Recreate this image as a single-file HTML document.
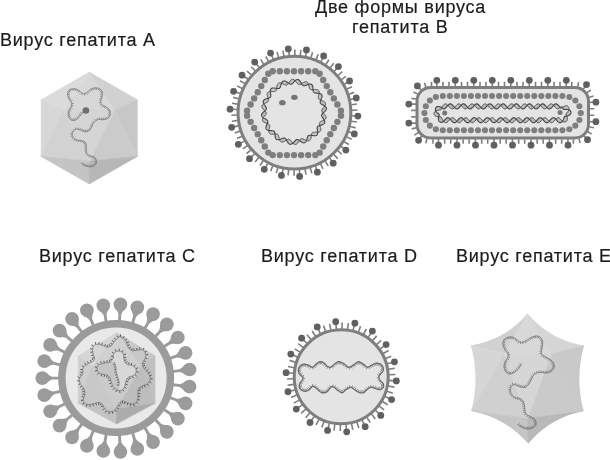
<!DOCTYPE html>
<html><head><meta charset="utf-8"><style>
html,body{margin:0;padding:0;background:#fff;width:610px;height:460px;overflow:hidden}
.t{position:absolute;font:18px/1 "Liberation Sans",sans-serif;letter-spacing:0.76px;color:#1c1c1c;white-space:nowrap;will-change:transform;-webkit-text-stroke:0.2px #1c1c1c}
svg{position:absolute;left:0;top:0}
</style></head><body>
<svg width="610" height="460" viewBox="0 0 610 460"><polygon points="89.2,72 63.5,110 114.5,110" fill="#d8d8d8" stroke="#d8d8d8" stroke-width="0.6" stroke-linejoin="round"/><polygon points="89.2,72 41.1,99.8 63.5,110" fill="#dbdbdb" stroke="#dbdbdb" stroke-width="0.6" stroke-linejoin="round"/><polygon points="89.2,72 137.4,99.8 114.5,110" fill="#d1d1d1" stroke="#d1d1d1" stroke-width="0.6" stroke-linejoin="round"/><polygon points="41.1,99.8 41.1,156.4 63.5,110" fill="#d7d7d7" stroke="#d7d7d7" stroke-width="0.6" stroke-linejoin="round"/><polygon points="137.4,99.8 137.4,156.4 114.5,110" fill="#c7c7c7" stroke="#c7c7c7" stroke-width="0.6" stroke-linejoin="round"/><polygon points="41.1,156.4 63.5,110 89.2,161" fill="#d2d2d2" stroke="#d2d2d2" stroke-width="0.6" stroke-linejoin="round"/><polygon points="137.4,156.4 114.5,110 89.2,161" fill="#cbcbcb" stroke="#cbcbcb" stroke-width="0.6" stroke-linejoin="round"/><polygon points="41.1,156.4 89.2,184 89.2,161" fill="#c4c4c4" stroke="#c4c4c4" stroke-width="0.6" stroke-linejoin="round"/><polygon points="89.2,184 137.4,156.4 89.2,161" fill="#b7b7b7" stroke="#b7b7b7" stroke-width="0.6" stroke-linejoin="round"/><polygon points="63.5,110 114.5,110 89.2,161" fill="#d5d5d5" stroke="#d5d5d5" stroke-width="0.6" stroke-linejoin="round"/><path d="M82.4 112.7 L82.03 113.19 L81.65 113.69 L81.28 114.2 L80.91 114.7 L80.53 115.2 L80.16 115.68 L79.78 116.15 L79.4 116.6 L79.02 117.04 L78.65 117.49 L78.28 117.92 L77.91 118.34 L77.53 118.74 L77.13 119.11 L76.73 119.43 L76.3 119.7 L75.84 119.93 L75.36 120.13 L74.86 120.3 L74.34 120.43 L73.83 120.52 L73.33 120.56 L72.85 120.56 L72.4 120.5 L71.97 120.38 L71.55 120.2 L71.13 119.97 L70.74 119.69 L70.36 119.38 L70.01 119.04 L69.69 118.68 L69.4 118.3 L69.14 117.9 L68.9 117.45 L68.69 116.98 L68.51 116.48 L68.35 115.97 L68.23 115.44 L68.15 114.92 L68.1 114.4 L68.1 113.88 L68.14 113.33 L68.22 112.78 L68.34 112.23 L68.48 111.67 L68.64 111.13 L68.82 110.6 L69 110.1 L69.22 109.62 L69.48 109.17 L69.77 108.73 L70.08 108.3 L70.38 107.88 L70.66 107.46 L70.91 107.03 L71.1 106.6 L71.26 106.16 L71.4 105.72 L71.52 105.28 L71.62 104.84 L71.68 104.41 L71.7 103.97 L71.68 103.53 L71.6 103.1 L71.45 102.68 L71.23 102.27 L70.95 101.86 L70.64 101.46 L70.31 101.04 L69.98 100.62 L69.67 100.17 L69.4 99.7 L69.15 99.19 L68.89 98.66 L68.63 98.1 L68.39 97.53 L68.16 96.96 L67.97 96.39 L67.81 95.83 L67.7 95.3 L67.63 94.78 L67.6 94.25 L67.6 93.73 L67.63 93.21 L67.7 92.72 L67.8 92.24 L67.93 91.8 L68.1 91.4 L68.31 91.03 L68.56 90.69 L68.84 90.37 L69.16 90.08 L69.5 89.82 L69.88 89.58 L70.28 89.38 L70.7 89.2 L71.16 89.05 L71.66 88.92 L72.2 88.83 L72.76 88.76 L73.33 88.72 L73.91 88.71 L74.47 88.74 L75 88.8 L75.52 88.91 L76.04 89.06 L76.57 89.24 L77.08 89.46 L77.59 89.7 L78.08 89.96 L78.55 90.23 L79 90.5 L79.43 90.8 L79.83 91.14 L80.22 91.5 L80.59 91.88 L80.95 92.24 L81.3 92.58 L81.65 92.87 L82 93.1 L82.34 93.28 L82.67 93.43 L82.98 93.54 L83.29 93.62 L83.61 93.67 L83.92 93.69 L84.25 93.66 L84.6 93.6 L84.96 93.49 L85.34 93.33 L85.73 93.13 L86.12 92.89 L86.52 92.63 L86.92 92.36 L87.31 92.08 L87.7 91.8 L88.07 91.5 L88.44 91.18 L88.79 90.83 L89.15 90.47 L89.51 90.11 L89.89 89.78 L90.28 89.47 L90.7 89.2 L91.14 88.96 L91.61 88.74 L92.1 88.54 L92.59 88.36 L93.1 88.21 L93.6 88.08 L94.11 87.97 L94.6 87.9 L95.09 87.86 L95.59 87.84 L96.1 87.85 L96.6 87.88 L97.1 87.94 L97.58 88.03 L98.05 88.15 L98.5 88.3 L98.94 88.48 L99.39 88.68 L99.82 88.92 L100.24 89.18 L100.64 89.47 L101.01 89.79 L101.33 90.13 L101.6 90.5 L101.82 90.9 L102 91.34 L102.14 91.82 L102.24 92.31 L102.32 92.83 L102.37 93.35 L102.39 93.88 L102.4 94.4 L102.38 94.93 L102.31 95.49 L102.22 96.05 L102.11 96.63 L101.98 97.19 L101.84 97.75 L101.72 98.29 L101.6 98.8 L101.48 99.29 L101.33 99.76 L101.17 100.22 L101.02 100.66 L100.88 101.09 L100.77 101.51 L100.71 101.91 L100.7 102.3 L100.74 102.67 L100.82 103.03 L100.93 103.38 L101.08 103.71 L101.25 104.03 L101.47 104.33 L101.72 104.62 L102 104.9 L102.33 105.15 L102.72 105.37 L103.15 105.56 L103.61 105.75 L104.09 105.94 L104.57 106.13 L105.05 106.35 L105.5 106.6 L105.95 106.88 L106.43 107.17 L106.91 107.47 L107.39 107.79 L107.85 108.12 L108.28 108.47 L108.67 108.83 L109 109.2 L109.28 109.59 L109.52 110.01 L109.73 110.45 L109.9 110.89 L110.04 111.35 L110.15 111.8 L110.24 112.26 L110.3 112.7 L110.34 113.14 L110.35 113.6 L110.34 114.05 L110.29 114.51 L110.22 114.95 L110.11 115.39 L109.98 115.81 L109.8 116.2 L109.59 116.58 L109.34 116.95 L109.05 117.32 L108.74 117.66 L108.39 117.99 L108.02 118.29 L107.62 118.56 L107.2 118.8 L106.74 119 L106.25 119.17 L105.72 119.31 L105.16 119.43 L104.59 119.53 L104.02 119.6 L103.45 119.66 L102.9 119.7 L102.35 119.71 L101.77 119.66 L101.2 119.59 L100.62 119.51 L100.05 119.43 L99.5 119.37 L98.98 119.35 L98.5 119.4 L98.05 119.5 L97.64 119.64 L97.25 119.82 L96.88 120.02 L96.52 120.24 L96.17 120.49 L95.84 120.74 L95.5 121 L95.17 121.27 L94.84 121.55 L94.53 121.84 L94.22 122.15 L93.92 122.48 L93.64 122.83 L93.36 123.2 L93.1 123.6 L92.86 124.04 L92.65 124.52 L92.46 125.02 L92.27 125.55 L92.09 126.08 L91.89 126.61 L91.66 127.12 L91.4 127.6 L91.11 128.07 L90.81 128.56 L90.48 129.04 L90.14 129.51 L89.79 129.96 L89.41 130.36 L89.01 130.71 L88.6 131 L88.16 131.22 L87.7 131.4 L87.21 131.53 L86.71 131.62 L86.19 131.67 L85.66 131.68 L85.13 131.65 L84.6 131.6 L84.06 131.49 L83.5 131.31 L82.92 131.08 L82.34 130.82 L81.77 130.56 L81.19 130.3 L80.64 130.08 L80.1 129.9 L79.58 129.75 L79.06 129.6 L78.55 129.47 L78.05 129.35 L77.56 129.26 L77.09 129.22 L76.64 129.23 L76.2 129.3 L75.78 129.44 L75.36 129.65 L74.96 129.9 L74.57 130.2 L74.21 130.53 L73.88 130.88 L73.57 131.24 L73.3 131.6 L73.06 131.97 L72.83 132.38 L72.63 132.8 L72.46 133.24 L72.33 133.68 L72.24 134.13 L72.19 134.57 L72.2 135 L72.27 135.43 L72.39 135.87 L72.56 136.32 L72.77 136.76 L73.01 137.18 L73.29 137.59 L73.59 137.96 L73.9 138.3 L74.24 138.6 L74.6 138.86 L75 139.1 L75.43 139.32 L75.87 139.51 L76.33 139.69 L76.81 139.85 L77.3 140 L77.82 140.12 L78.37 140.2 L78.96 140.26 L79.55 140.3 L80.14 140.34 L80.73 140.4 L81.28 140.48 L81.8 140.6 L82.29 140.74 L82.78 140.9 L83.26 141.06 L83.71 141.24 L84.14 141.45 L84.54 141.69 L84.89 141.97 L85.2 142.3 L85.46 142.68 L85.66 143.1 L85.83 143.57 L85.96 144.07 L86.07 144.59 L86.16 145.12 L86.23 145.66 L86.3 146.2 L86.34 146.75 L86.35 147.33 L86.33 147.93 L86.29 148.53 L86.26 149.13 L86.24 149.72 L86.25 150.28 L86.3 150.8 L86.38 151.29 L86.46 151.77 L86.57 152.24 L86.69 152.68 L86.84 153.1 L87.02 153.5 L87.24 153.86 L87.5 154.2 L87.82 154.49 L88.18 154.75 L88.59 154.97 L89.03 155.16 L89.49 155.34 L89.96 155.52 L90.44 155.7 L90.9 155.9 L91.38 156.09 L91.89 156.25 L92.42 156.4 L92.96 156.56 L93.48 156.73 L93.97 156.93 L94.41 157.19 L94.8 157.5 L95.14 157.89 L95.45 158.35 L95.72 158.85 L95.96 159.39 L96.16 159.94 L96.32 160.49 L96.44 161.01 L96.5 161.5 L96.51 161.97 L96.48 162.43 L96.39 162.89 L96.27 163.34 L96.1 163.78 L95.9 164.18 L95.67 164.56 L95.4 164.9 L95.09 165.21 L94.73 165.48 L94.32 165.74 L93.88 165.96 L93.42 166.16 L92.95 166.33 L92.47 166.48 L92 166.6 L91.53 166.69 L91.04 166.75 L90.54 166.77 L90.03 166.77 L89.52 166.76 L89.01 166.72 L88.5 166.66 L88 166.6 L87.5 166.52 L86.99 166.43 L86.48 166.32 L85.98 166.19 L85.48 166.05 L85 165.89 L84.53 165.7 L84.1 165.5 L83.7 165.27 L83.32 165.01 L82.97 164.73 L82.63 164.42 L82.3 164.12 L81.97 163.8 L81.64 163.5 L81.3 163.2" fill="none" stroke="#707070" stroke-width="0.9" stroke-linejoin="round" stroke-linecap="round"/><path d="M81.56 113.32L80.27 112.36M80.36 114.92L79.09 113.96M79.12 116.46L77.9 115.43M77.83 117.98L76.63 116.92M76.42 119.27L75.56 117.92M74.68 120.04L74.28 118.49M72.82 120.25L73.03 118.67M71.11 119.59L72.02 118.27M69.75 118.26L71.02 117.29M68.86 116.58L70.36 116.02M68.43 114.71L70.02 114.57M68.52 112.81L70.09 113.13M69.03 110.91L70.54 111.42M69.83 109.18L71.17 110.06M70.97 107.51L72.36 108.32M71.75 105.59L73.29 106.02M71.98 103.52L73.57 103.43M71.1 101.56L72.36 100.58M69.92 100L71.31 99.21M69.03 98.24L70.48 97.57M68.29 96.41L69.8 95.89M67.92 94.54L69.52 94.43M68.02 92.63L69.59 92.96M68.76 90.92L70.05 91.86M70.19 89.76L70.92 91.18M72 89.17L72.29 90.74M73.92 89.01L73.84 90.61M75.82 89.3L75.38 90.84M77.61 90.05L76.86 91.47M79.26 91.05L78.23 92.28M80.69 92.41L79.56 93.53M82.39 93.63L81.73 95.09M84.51 93.92L84.8 95.5M86.43 93.05L87.31 94.39M88.08 91.88L89.08 93.13M89.56 90.49L90.68 91.63M91.08 89.34L91.83 90.75M92.87 88.59L93.35 90.12M94.76 88.19L94.91 89.78M96.7 88.2L96.5 89.78M98.56 88.65L97.96 90.13M100.25 89.56L99.31 90.85M101.49 90.93L100.09 91.7M102 92.74L100.42 92.97M102.09 94.68L100.49 94.61M101.8 96.6L100.24 96.25M101.35 98.55L99.79 98.19M100.78 100.43L99.27 99.9M100.42 102.51L98.83 102.69M101.21 104.48L99.9 105.41M102.9 105.78L102.24 107.23M104.75 106.54L104.08 108M106.44 107.53L105.59 108.88M108.04 108.66L107.04 109.91M109.23 110.11L107.85 110.92M109.87 111.9L108.29 112.19M110.04 113.82L108.44 113.77M109.7 115.69L108.18 115.18M108.7 117.26L107.51 116.19M107.22 118.45L106.43 117.05M105.42 119.07L105.09 117.5M103.47 119.35L103.31 117.76M101.55 119.33L101.75 117.75M99.56 119.07L99.72 117.48M97.45 119.4L96.8 117.94M95.69 120.47L94.73 119.19M94.14 121.8L93 120.68M92.86 123.41L91.53 122.53M92.04 125.31L90.53 124.78M91.32 127.12L89.91 126.36M90.28 128.8L88.95 127.92M89.05 130.28L87.99 129.08M87.44 131.16L87.03 129.61M85.55 131.37L85.62 129.77M83.67 131.05L84.15 129.53M81.86 130.27L82.52 128.81M79.96 129.55L80.39 128.01M77.99 129.04L78.27 127.46M75.87 129.09L75.36 127.58M74.1 130.23L73.02 129.04M72.78 131.85L71.38 131.07M72 133.79L70.43 133.46M72.08 135.9L70.54 136.32M73.04 137.76L71.72 138.65M74.58 139.2L73.76 140.57M76.46 140.05L75.95 141.57M78.47 140.51L78.32 142.11M80.47 140.67L80.31 142.27M82.36 141.08L81.88 142.61M84.14 141.8L83.3 143.17M85.34 143.13L83.9 143.83M85.83 144.97L84.25 145.23M86.05 146.91L84.45 146.93M85.97 148.89L84.38 148.8M86.02 150.95L84.44 151.2M86.47 152.95L84.96 153.49M87.66 154.75L86.75 156.07M89.51 155.67L88.95 157.17M91.39 156.41L90.9 157.93M93.3 156.98L92.79 158.5M94.81 157.97L93.6 159.02M95.73 159.62L94.23 160.17M96.2 161.49L94.61 161.69M95.96 163.31L94.47 162.74M94.99 164.89L93.86 163.75M93.38 165.85L92.74 164.39M91.52 166.38L91.22 164.81M89.59 166.46L89.65 164.86M87.64 166.24L87.88 164.66M85.73 165.81L86.18 164.27M83.95 165.07L84.75 163.68M82.46 163.85L83.57 162.7" stroke="#6a6a6a" stroke-width="0.7" fill="none"/><line x1="85.9" y1="110.5" x2="82.4" y2="112.7" stroke="#707070" stroke-width="1"/><circle cx="85.9" cy="110.5" r="3.3" fill="#6e6e6e"/><circle cx="294.45" cy="112.65" r="56.4" fill="#e4e4e4" stroke="#7e7e7e" stroke-width="3"/><path d="M299.56 169.92L299.55 175.4M294.09 170.15L294.06 175.75M288.63 169.85L288.06 175.43M283.22 169.04L281.64 174.44M277.91 167.72L276.3 173.08M272.75 165.9L270.64 171.08M267.79 163.59L264.74 168.47M263.06 160.83L260.01 165.52M258.63 157.63L255.14 162.01M254.51 154.02L250.19 157.98M250.76 150.03L246.51 153.68M247.41 145.71L242.82 148.93M244.48 141.09L239.2 143.81M242 136.21L236.89 138.51M240 131.12L234.69 132.92M238.49 125.86L232.64 127.12M237.49 120.48L231.94 121.24M237 115.03L231.4 115.26M237.03 109.56L231.04 109.26M237.59 104.12L232.05 103.28M238.66 98.75L233.22 97.39M240.23 93.51L234.54 91.68M242.29 88.44L237.22 86.08M244.83 83.59L240 80.76M247.82 79.01L242.86 75.79M251.23 74.73L247.02 71.03M255.03 70.79L251.19 66.71M259.19 67.23L255.31 62.89M263.66 64.09L260.66 59.36M268.42 61.38L265.88 56.39M273.41 59.14L270.9 54.02M278.59 57.38L277.05 52M283.92 56.12L282.89 50.62M289.34 55.38L288.35 49.9M294.81 55.15L294.84 49.55M300.27 55.45L300.84 49.87M305.68 56.26L306.25 50.86M310.99 57.58L312.6 52.22M316.15 59.4L318.26 54.22M321.11 61.71L323.16 56.83M325.84 64.47L328.89 59.78M330.27 67.67L333.76 63.29M334.39 71.28L337.71 67.32M338.14 75.26L342.39 71.62M341.49 79.59L346.07 76.37M344.42 84.21L348.7 81.49M346.9 89.09L352.01 86.79M348.9 94.18L354.21 92.38M350.41 99.44L355.26 98.18M351.41 104.82L356.96 104.06M351.9 110.27L357.5 110.04M351.87 115.74L356.86 116.04M351.31 121.18L356.85 122.02M350.24 126.55L355.68 127.9M348.67 131.79L353.36 133.62M346.61 136.86L351.68 139.22M344.07 141.71L348.9 144.54M341.08 146.29L345.04 149.51M337.67 150.57L341.88 154.27M333.87 154.51L337.71 158.59M329.71 158.07L332.59 162.41M325.24 161.21L328.24 165.94M320.48 163.92L323.02 168.91M315.49 166.16L317 171.28M310.31 167.92L311.85 173.3M304.98 169.18L306.01 174.68" stroke="#7e7e7e" stroke-width="1.6" fill="none"/><g fill="#606060"><circle cx="299.64" cy="176.4" r="3.4"/><circle cx="281.45" cy="175.42" r="3.4"/><circle cx="264.27" cy="169.35" r="3.4"/><circle cx="249.5" cy="158.69" r="3.4"/><circle cx="238.33" cy="144.31" r="3.4"/><circle cx="231.66" cy="127.35" r="3.4"/><circle cx="230.04" cy="109.21" r="3.4"/><circle cx="233.6" cy="91.34" r="3.4"/><circle cx="242.05" cy="75.2" r="3.4"/><circle cx="254.7" cy="62.1" r="3.4"/><circle cx="270.53" cy="53.09" r="3.4"/><circle cx="288.26" cy="48.9" r="3.4"/><circle cx="306.45" cy="49.88" r="3.4"/><circle cx="323.63" cy="55.95" r="3.4"/><circle cx="338.4" cy="66.6" r="3.4"/><circle cx="349.57" cy="80.99" r="3.4"/><circle cx="356.24" cy="97.95" r="3.4"/><circle cx="357.86" cy="116.09" r="3.4"/><circle cx="354.3" cy="133.96" r="3.4"/><circle cx="345.85" cy="150.09" r="3.4"/><circle cx="333.2" cy="163.2" r="3.4"/><circle cx="317.37" cy="172.21" r="3.4"/></g><g fill="#7e7e7e"><circle cx="340.95" cy="115.71" r="3.2"/><circle cx="337.4" cy="121.86" r="3.2"/><circle cx="333.85" cy="128.01" r="3.2"/><circle cx="330.3" cy="134.16" r="3.2"/><circle cx="326.75" cy="140.31" r="3.2"/><circle cx="323.2" cy="146.45" r="3.2"/><circle cx="319.65" cy="152.6" r="3.2"/><circle cx="315.3" cy="155.12" r="3.2"/><circle cx="308.2" cy="155.12" r="3.2"/><circle cx="301.1" cy="155.12" r="3.2"/><circle cx="294" cy="155.12" r="3.2"/><circle cx="286.9" cy="155.12" r="3.2"/><circle cx="279.8" cy="155.12" r="3.2"/><circle cx="272.7" cy="155.12" r="3.2"/><circle cx="268.35" cy="152.6" r="3.2"/><circle cx="264.8" cy="146.45" r="3.2"/><circle cx="261.25" cy="140.31" r="3.2"/><circle cx="257.7" cy="134.16" r="3.2"/><circle cx="254.15" cy="128.01" r="3.2"/><circle cx="250.6" cy="121.86" r="3.2"/><circle cx="247.05" cy="115.71" r="3.2"/><circle cx="247.05" cy="110.69" r="3.2"/><circle cx="250.6" cy="104.54" r="3.2"/><circle cx="254.15" cy="98.39" r="3.2"/><circle cx="257.7" cy="92.24" r="3.2"/><circle cx="261.25" cy="86.09" r="3.2"/><circle cx="264.8" cy="79.95" r="3.2"/><circle cx="268.35" cy="73.8" r="3.2"/><circle cx="272.7" cy="71.28" r="3.2"/><circle cx="279.8" cy="71.28" r="3.2"/><circle cx="286.9" cy="71.28" r="3.2"/><circle cx="294" cy="71.28" r="3.2"/><circle cx="301.1" cy="71.28" r="3.2"/><circle cx="308.2" cy="71.28" r="3.2"/><circle cx="315.3" cy="71.28" r="3.2"/><circle cx="319.65" cy="73.8" r="3.2"/><circle cx="323.2" cy="79.95" r="3.2"/><circle cx="326.75" cy="86.09" r="3.2"/><circle cx="330.3" cy="92.24" r="3.2"/><circle cx="333.85" cy="98.39" r="3.2"/><circle cx="337.4" cy="104.54" r="3.2"/><circle cx="340.95" cy="110.69" r="3.2"/></g><path d="M324.2 112.05L322.35 112.04M322.9 113.2L323.41 113.22M321.95 114.26L324.64 114.49M321.6 115.36L325.66 115.84M321.92 116.52L326.1 117.21M322.75 117.84L325.8 118.45M323.76 119.29L324.78 119.54M324.57 120.81L323.29 120.42M324.84 122.21L321.69 121.17M324.38 123.44L320.37 121.89M323.25 124.34L319.58 122.79M321.65 124.99L319.43 123.92M319.95 125.47L319.76 125.38M318.5 125.97L320.33 127.03M317.53 126.71L320.76 128.72M317.17 127.77L320.73 130.24M317.24 129.24L320.11 131.36M317.53 130.95L318.87 132.04M317.71 132.69L317.22 132.27M317.47 134.21L315.44 132.27M316.72 135.25L313.81 132.3M315.41 135.76L312.6 132.62M313.76 135.75L311.82 133.44M311.99 135.47L311.44 134.75M310.39 135.22L311.22 136.43M309.09 135.32L310.94 138.18M308.2 135.95L310.36 139.68M307.57 137.16L309.43 140.62M307.09 138.77L308.1 140.88M306.53 140.46L306.56 140.52M305.75 141.87L304.94 139.79M304.7 142.69L303.41 139.05M303.36 142.79L302.12 138.65M301.9 142.22L301 138.85M300.41 141.25L300.07 139.7M299.01 140.26L299.15 141.03M297.78 139.63L298.17 142.52M296.64 139.61L297.07 143.76M295.59 140.25L295.82 144.42M294.47 141.4L294.54 144.31M293.27 142.71L293.25 143.48M291.97 143.78L292.08 142.19M290.65 144.28L291.01 140.81M289.37 144.01L290.01 139.73M288.26 143.04L288.95 139.24M287.29 141.59L287.79 139.42M286.45 140.05L286.43 140.12M285.64 138.79L284.93 141.04M284.68 138.09L283.38 141.8M283.53 138.04L281.91 142.04M282.09 138.49L280.72 141.6M280.47 139.16L279.82 140.47M278.82 139.68L279.25 138.87M277.31 139.72L278.87 137.13M276.18 139.14L278.46 135.6M275.44 137.91L277.85 134.55M275.12 136.27L276.82 134.03M275.01 134.49L275.42 134M274.89 132.9L273.71 134.17M274.45 131.71L271.95 134.26M273.58 131.03L270.4 133.98M272.21 130.73L269.34 133.22M270.51 130.62L268.86 131.93M268.75 130.44L268.92 130.32M267.24 129.94L269.29 128.57M266.28 129.05L269.66 126.94M265.96 127.73L269.71 125.63M266.25 126.15L269.19 124.63M266.89 124.49L268.1 123.93M267.52 122.93L266.55 123.34M267.82 121.61L264.89 122.69M267.51 120.53L263.48 121.87M266.58 119.66L262.64 120.77M265.17 118.83L262.55 119.48M263.63 117.94L263.14 118.03M262.34 116.88L264.17 116.61M261.64 115.7L265.27 115.27M261.71 114.38L266.04 114.07M262.48 113.08L266.21 112.93M263.72 111.82L265.7 111.84M265.02 110.67L264.67 110.66M266.01 109.61L263.43 109.39M266.4 108.52L262.39 108.04M266.12 107.37L261.91 106.67M265.32 106.05L262.16 105.42M264.3 104.6L263.14 104.31M263.46 103.11L264.61 103.43M263.16 101.66L266.21 102.68M263.56 100.46L267.57 101.93M264.67 99.5L268.39 101.08M266.24 98.85L268.59 99.93M267.95 98.36L268.27 98.53M269.42 97.87L267.71 96.88M270.42 97.15L267.26 95.18M270.82 96.11L267.25 93.64M270.77 94.66L267.83 92.49M270.49 92.96L269.04 91.79M270.3 91.21L270.67 91.53M270.5 89.67L272.45 91.53M271.22 88.59L274.09 91.51M272.5 88.05L275.33 91.22M274.13 88.04L276.14 90.43M275.9 88.31L276.54 89.15M277.53 88.56L276.77 87.48M278.83 88.5L277.04 85.72M279.78 87.89L277.57 84.21M280.4 86.73L278.5 83.22M280.89 85.14L279.78 82.92M281.43 83.44L281.34 83.24M282.2 82L282.96 83.96M283.23 81.14L284.49 84.71M284.56 80.99L285.8 85.15M286.01 81.53L286.93 84.98M287.5 82.48L287.87 84.17M288.9 83.48L288.79 82.86M290.14 84.15L289.77 81.37M291.28 84.21L290.86 80.1M292.34 83.61L292.11 79.4M293.46 82.49L293.38 79.46M294.65 81.17L294.67 80.25M295.93 80.07L295.85 81.52M297.27 79.53L296.92 82.91M298.53 79.74L297.95 84.02M299.68 80.68L298.98 84.55M300.65 82.11L300.16 84.42M301.5 83.66L301.48 83.74M302.3 84.94L302.97 82.82M303.25 85.68L304.53 82.04M304.38 85.77L306.01 81.76M305.81 85.35L307.22 82.15M307.42 84.68L308.14 83.25M309.08 84.14L308.72 84.82M310.61 84.07L309.11 86.56M311.77 84.61L309.51 88.11M312.53 85.8L310.1 89.2M312.87 87.42L311.1 89.75M312.98 89.2L312.48 89.81M313.12 90.82L314.18 89.64M313.5 92.02L315.95 89.54M314.37 92.76L317.5 89.77M315.69 93.06L318.61 90.52M317.38 93.17L319.12 91.76M319.14 93.34L319.1 93.38M320.68 93.82L318.73 95.12M321.68 94.68L318.35 96.76M322.04 95.99L318.28 98.09M321.78 97.55L318.76 99.12M321.16 99.21L319.82 99.83M320.51 100.78L321.34 100.43M320.19 102.1L323.01 101.06M320.45 103.21L324.44 101.87M321.34 104.09L325.33 102.96M322.73 104.92L325.47 104.24M324.28 105.81L324.91 105.68M325.59 106.82L323.9 107.11M326.33 108.03L322.8 108.45M326.32 109.31L322 109.68M325.58 110.64L321.78 110.79M324.37 111.9L322.25 111.92" stroke="#808080" stroke-width="0.5" fill="none"/><path d="M324.2 112.05 L323.86 112.35 L323.53 112.63 L323.21 112.91 L322.9 113.2 L322.62 113.46 L322.36 113.72 L322.14 114.01 L321.95 114.26 L321.8 114.51 L321.69 114.8 L321.62 115.06 L321.6 115.36 L321.62 115.63 L321.68 115.9 L321.78 116.22 L321.92 116.52 L322.09 116.82 L322.28 117.16 L322.51 117.49 L322.75 117.84 L323 118.19 L323.26 118.55 L323.51 118.92 L323.76 119.29 L324 119.67 L324.22 120.04 L324.41 120.42 L324.57 120.81 L324.7 121.16 L324.79 121.53 L324.84 121.86 L324.84 122.21 L324.79 122.55 L324.71 122.84 L324.57 123.15 L324.38 123.44 L324.16 123.68 L323.89 123.93 L323.59 124.13 L323.25 124.34 L322.87 124.53 L322.49 124.69 L322.07 124.85 L321.65 124.99 L321.22 125.12 L320.79 125.24 L320.37 125.35 L319.95 125.47 L319.55 125.58 L319.17 125.71 L318.82 125.84 L318.5 125.97 L318.2 126.14 L317.94 126.3 L317.73 126.48 L317.53 126.71 L317.39 126.93 L317.27 127.21 L317.2 127.48 L317.17 127.77 L317.14 128.12 L317.16 128.46 L317.2 128.83 L317.24 129.24 L317.31 129.65 L317.39 130.07 L317.46 130.51 L317.53 130.95 L317.6 131.39 L317.65 131.83 L317.68 132.27 L317.71 132.69 L317.69 133.11 L317.64 133.51 L317.58 133.86 L317.47 134.21 L317.32 134.54 L317.16 134.8 L316.94 135.06 L316.72 135.25 L316.43 135.44 L316.11 135.59 L315.78 135.68 L315.41 135.76 L315.01 135.8 L314.62 135.8 L314.19 135.79 L313.76 135.75 L313.31 135.7 L312.87 135.63 L312.43 135.56 L311.99 135.47 L311.57 135.39 L311.15 135.33 L310.76 135.27 L310.39 135.22 L310.02 135.21 L309.69 135.21 L309.37 135.26 L309.09 135.32 L308.84 135.42 L308.58 135.57 L308.38 135.74 L308.2 135.95 L308 136.21 L307.85 136.49 L307.69 136.82 L307.57 137.16 L307.45 137.53 L307.32 137.93 L307.21 138.34 L307.09 138.77 L306.96 139.2 L306.83 139.63 L306.68 140.05 L306.53 140.46 L306.36 140.85 L306.19 141.22 L305.98 141.56 L305.75 141.87 L305.53 142.14 L305.26 142.37 L304.97 142.56 L304.7 142.69 L304.37 142.79 L304.07 142.83 L303.72 142.83 L303.36 142.79 L303.01 142.7 L302.64 142.58 L302.26 142.42 L301.9 142.22 L301.51 142 L301.14 141.77 L300.77 141.51 L300.41 141.25 L300.04 140.99 L299.69 140.74 L299.36 140.49 L299.01 140.26 L298.69 140.06 L298.39 139.88 L298.06 139.74 L297.78 139.63 L297.5 139.56 L297.2 139.53 L296.94 139.54 L296.64 139.61 L296.39 139.71 L296.13 139.85 L295.84 140.03 L295.59 140.25 L295.33 140.5 L295.04 140.78 L294.76 141.08 L294.47 141.4 L294.18 141.72 L293.89 142.06 L293.59 142.39 L293.27 142.71 L292.95 143.02 L292.64 143.3 L292.31 143.56 L291.97 143.78 L291.65 143.97 L291.31 144.12 L291 144.23 L290.65 144.28 L290.31 144.29 L290.02 144.25 L289.69 144.15 L289.37 144.01 L289.09 143.83 L288.79 143.6 L288.53 143.34 L288.26 143.04 L287.99 142.7 L287.76 142.35 L287.52 141.98 L287.29 141.59 L287.07 141.2 L286.86 140.8 L286.66 140.42 L286.45 140.05 L286.25 139.69 L286.04 139.36 L285.84 139.06 L285.64 138.79 L285.4 138.55 L285.18 138.36 L284.96 138.21 L284.68 138.09 L284.43 138.02 L284.16 138 L283.84 137.99 L283.53 138.04 L283.18 138.11 L282.84 138.22 L282.48 138.35 L282.09 138.49 L281.7 138.65 L281.3 138.82 L280.89 138.99 L280.47 139.16 L280.06 139.32 L279.64 139.46 L279.21 139.58 L278.82 139.68 L278.41 139.74 L278.02 139.77 L277.67 139.77 L277.31 139.72 L276.97 139.63 L276.69 139.52 L276.4 139.34 L276.18 139.14 L275.94 138.88 L275.74 138.59 L275.59 138.27 L275.44 137.91 L275.32 137.53 L275.24 137.13 L275.17 136.7 L275.12 136.27 L275.08 135.82 L275.05 135.37 L275.03 134.92 L275.01 134.49 L275 134.06 L274.96 133.65 L274.93 133.26 L274.89 132.9 L274.8 132.55 L274.72 132.25 L274.59 131.95 L274.45 131.71 L274.29 131.5 L274.07 131.3 L273.84 131.15 L273.58 131.03 L273.27 130.91 L272.95 130.84 L272.58 130.77 L272.21 130.73 L271.81 130.7 L271.39 130.67 L270.96 130.65 L270.51 130.62 L270.07 130.6 L269.62 130.56 L269.17 130.5 L268.75 130.44 L268.33 130.35 L267.95 130.25 L267.58 130.11 L267.24 129.94 L266.95 129.78 L266.68 129.55 L266.45 129.3 L266.28 129.05 L266.13 128.75 L266.03 128.42 L265.98 128.1 L265.96 127.73 L265.99 127.37 L266.04 126.96 L266.13 126.55 L266.25 126.15 L266.39 125.73 L266.54 125.31 L266.71 124.9 L266.89 124.49 L267.06 124.08 L267.23 123.68 L267.39 123.31 L267.52 122.93 L267.64 122.58 L267.74 122.25 L267.79 121.91 L267.82 121.61 L267.81 121.34 L267.74 121.04 L267.65 120.8 L267.51 120.53 L267.34 120.31 L267.12 120.09 L266.86 119.86 L266.58 119.66 L266.26 119.46 L265.92 119.24 L265.55 119.04 L265.17 118.83 L264.78 118.62 L264.39 118.4 L264.01 118.17 L263.63 117.94 L263.27 117.69 L262.93 117.44 L262.62 117.17 L262.34 116.88 L262.1 116.61 L261.9 116.31 L261.75 116.02 L261.64 115.7 L261.59 115.36 L261.58 115.06 L261.62 114.72 L261.71 114.38 L261.84 114.07 L262.02 113.72 L262.23 113.41 L262.48 113.08 L262.76 112.75 L263.07 112.44 L263.39 112.13 L263.72 111.82 L264.05 111.53 L264.39 111.24 L264.71 110.96 L265.02 110.67 L265.31 110.41 L265.58 110.12 L265.81 109.86 L266.01 109.61 L266.17 109.32 L266.29 109.07 L266.37 108.81 L266.4 108.52 L266.39 108.25 L266.34 107.98 L266.25 107.66 L266.12 107.37 L265.96 107.04 L265.77 106.72 L265.55 106.4 L265.32 106.05 L265.07 105.7 L264.81 105.34 L264.55 104.98 L264.3 104.6 L264.06 104.23 L263.84 103.85 L263.64 103.47 L263.46 103.11 L263.33 102.73 L263.23 102.35 L263.17 102.02 L263.16 101.66 L263.2 101.32 L263.27 101.03 L263.4 100.72 L263.56 100.46 L263.78 100.18 L264.04 99.93 L264.33 99.72 L264.67 99.5 L265.03 99.31 L265.41 99.15 L265.82 98.99 L266.24 98.85 L266.67 98.72 L267.1 98.59 L267.53 98.47 L267.95 98.36 L268.35 98.25 L268.74 98.12 L269.09 98 L269.42 97.87 L269.73 97.71 L269.99 97.55 L270.23 97.35 L270.42 97.15 L270.57 96.94 L270.7 96.67 L270.78 96.4 L270.82 96.11 L270.86 95.77 L270.84 95.43 L270.82 95.05 L270.77 94.66 L270.7 94.26 L270.64 93.83 L270.56 93.4 L270.49 92.96 L270.42 92.52 L270.36 92.08 L270.32 91.63 L270.3 91.21 L270.31 90.79 L270.33 90.41 L270.4 90.03 L270.5 89.67 L270.62 89.36 L270.79 89.06 L271 88.8 L271.22 88.59 L271.5 88.4 L271.82 88.24 L272.13 88.14 L272.5 88.05 L272.87 88.02 L273.28 87.99 L273.71 88 L274.13 88.04 L274.58 88.08 L275.02 88.15 L275.46 88.23 L275.9 88.31 L276.33 88.38 L276.75 88.46 L277.14 88.52 L277.53 88.56 L277.89 88.59 L278.22 88.6 L278.55 88.55 L278.83 88.5 L279.09 88.41 L279.36 88.27 L279.56 88.11 L279.78 87.89 L279.95 87.66 L280.1 87.39 L280.27 87.07 L280.4 86.73 L280.52 86.37 L280.65 85.97 L280.76 85.56 L280.89 85.14 L281.01 84.71 L281.14 84.28 L281.27 83.86 L281.43 83.44 L281.6 83.04 L281.77 82.67 L281.97 82.32 L282.2 82 L282.42 81.73 L282.68 81.48 L282.93 81.29 L283.23 81.14 L283.55 81.03 L283.85 80.97 L284.2 80.96 L284.56 80.99 L284.9 81.07 L285.27 81.19 L285.65 81.34 L286.01 81.53 L286.39 81.74 L286.76 81.97 L287.14 82.22 L287.5 82.48 L287.87 82.74 L288.22 83 L288.56 83.25 L288.9 83.48 L289.22 83.69 L289.56 83.87 L289.85 84.03 L290.14 84.15 L290.45 84.23 L290.72 84.27 L290.99 84.26 L291.28 84.21 L291.54 84.13 L291.8 83.99 L292.08 83.82 L292.34 83.61 L292.63 83.37 L292.89 83.1 L293.16 82.8 L293.46 82.49 L293.74 82.16 L294.04 81.83 L294.34 81.5 L294.65 81.17 L294.96 80.86 L295.28 80.57 L295.62 80.3 L295.93 80.07 L296.27 79.87 L296.62 79.71 L296.93 79.6 L297.27 79.53 L297.61 79.51 L297.91 79.54 L298.24 79.62 L298.53 79.74 L298.84 79.92 L299.14 80.14 L299.4 80.39 L299.68 80.68 L299.95 81.01 L300.19 81.36 L300.43 81.73 L300.65 82.11 L300.87 82.5 L301.09 82.9 L301.3 83.28 L301.5 83.66 L301.69 84.02 L301.91 84.36 L302.1 84.67 L302.3 84.94 L302.54 85.19 L302.75 85.39 L303.01 85.56 L303.25 85.68 L303.5 85.76 L303.8 85.81 L304.08 85.81 L304.38 85.77 L304.73 85.71 L305.07 85.61 L305.42 85.49 L305.81 85.35 L306.19 85.19 L306.6 85.02 L307.01 84.85 L307.42 84.68 L307.84 84.52 L308.26 84.38 L308.68 84.25 L309.08 84.14 L309.49 84.07 L309.86 84.02 L310.24 84.03 L310.61 84.07 L310.92 84.13 L311.24 84.25 L311.53 84.42 L311.77 84.61 L312.01 84.85 L312.22 85.14 L312.37 85.44 L312.53 85.8 L312.64 86.16 L312.74 86.57 L312.82 86.99 L312.87 87.42 L312.91 87.87 L312.94 88.32 L312.97 88.76 L312.98 89.2 L313.01 89.64 L313.03 90.05 L313.06 90.44 L313.12 90.82 L313.17 91.16 L313.25 91.47 L313.38 91.78 L313.5 92.02 L313.66 92.24 L313.87 92.45 L314.09 92.61 L314.37 92.76 L314.65 92.86 L314.96 92.94 L315.32 93.02 L315.69 93.06 L316.08 93.09 L316.5 93.13 L316.93 93.15 L317.38 93.17 L317.82 93.2 L318.27 93.23 L318.71 93.28 L319.14 93.34 L319.57 93.43 L319.95 93.52 L320.33 93.66 L320.68 93.82 L320.98 93.98 L321.26 94.2 L321.48 94.41 L321.68 94.68 L321.84 94.98 L321.94 95.27 L322.01 95.62 L322.04 95.99 L322.02 96.34 L321.98 96.74 L321.9 97.15 L321.78 97.55 L321.65 97.97 L321.5 98.38 L321.33 98.8 L321.16 99.21 L320.98 99.62 L320.81 100.01 L320.65 100.39 L320.51 100.78 L320.38 101.13 L320.29 101.49 L320.22 101.81 L320.19 102.1 L320.2 102.42 L320.24 102.69 L320.32 102.93 L320.45 103.21 L320.61 103.43 L320.82 103.65 L321.07 103.88 L321.34 104.09 L321.66 104.31 L321.99 104.51 L322.35 104.71 L322.73 104.92 L323.12 105.13 L323.51 105.35 L323.9 105.57 L324.28 105.81 L324.64 106.04 L324.99 106.3 L325.31 106.57 L325.59 106.82 L325.84 107.12 L326.05 107.43 L326.21 107.71 L326.33 108.03 L326.41 108.36 L326.42 108.66 L326.4 109 L326.32 109.31 L326.2 109.65 L326.03 110 L325.82 110.31 L325.58 110.64 L325.31 110.97 L325.01 111.28 L324.7 111.6 L324.37 111.9" stroke="#444444" stroke-width="1.0924999999999998" fill="none"/><path d="M322.35 112.04 L322.58 112.34 L322.83 112.62 L323.11 112.91 L323.41 113.22 L323.71 113.52 L324.03 113.84 L324.34 114.16 L324.64 114.49 L324.93 114.83 L325.2 115.16 L325.45 115.51 L325.66 115.84 L325.83 116.19 L325.97 116.55 L326.06 116.86 L326.1 117.21 L326.1 117.55 L326.05 117.85 L325.95 118.17 L325.8 118.45 L325.6 118.75 L325.37 119.04 L325.09 119.28 L324.78 119.54 L324.44 119.79 L324.07 120 L323.69 120.22 L323.29 120.42 L322.88 120.62 L322.48 120.8 L322.08 120.99 L321.69 121.17 L321.32 121.34 L320.97 121.53 L320.65 121.71 L320.37 121.89 L320.11 122.11 L319.9 122.31 L319.71 122.56 L319.58 122.79 L319.49 123.04 L319.42 123.33 L319.41 123.62 L319.43 123.92 L319.47 124.27 L319.55 124.62 L319.65 124.98 L319.76 125.38 L319.9 125.77 L320.04 126.19 L320.19 126.6 L320.33 127.03 L320.46 127.45 L320.58 127.88 L320.68 128.31 L320.76 128.72 L320.8 129.13 L320.83 129.5 L320.8 129.88 L320.73 130.24 L320.65 130.55 L320.5 130.85 L320.32 131.14 L320.11 131.36 L319.85 131.58 L319.55 131.77 L319.23 131.91 L318.87 132.04 L318.49 132.12 L318.08 132.2 L317.65 132.25 L317.22 132.27 L316.77 132.28 L316.32 132.29 L315.87 132.28 L315.44 132.27 L315.01 132.26 L314.59 132.26 L314.2 132.27 L313.81 132.3 L313.47 132.34 L313.16 132.4 L312.85 132.51 L312.6 132.62 L312.38 132.77 L312.15 132.97 L311.99 133.18 L311.82 133.44 L311.7 133.72 L311.6 134.03 L311.5 134.38 L311.44 134.75 L311.38 135.14 L311.32 135.56 L311.27 135.99 L311.22 136.43 L311.17 136.87 L311.1 137.32 L311.03 137.75 L310.94 138.18 L310.82 138.6 L310.71 138.98 L310.55 139.34 L310.36 139.68 L310.18 139.97 L309.95 140.23 L309.72 140.44 L309.43 140.62 L309.12 140.75 L308.82 140.83 L308.47 140.88 L308.1 140.88 L307.75 140.84 L307.35 140.77 L306.95 140.66 L306.56 140.52 L306.15 140.36 L305.75 140.18 L305.34 139.99 L304.94 139.79 L304.54 139.59 L304.16 139.39 L303.79 139.21 L303.41 139.05 L303.07 138.9 L302.72 138.79 L302.41 138.7 L302.12 138.65 L301.8 138.64 L301.53 138.67 L301.28 138.73 L301 138.85 L300.77 139 L300.54 139.2 L300.29 139.43 L300.07 139.7 L299.83 140 L299.61 140.32 L299.39 140.67 L299.15 141.03 L298.92 141.4 L298.68 141.78 L298.43 142.16 L298.17 142.52 L297.9 142.87 L297.63 143.2 L297.34 143.5 L297.07 143.76 L296.76 143.99 L296.44 144.18 L296.15 144.32 L295.82 144.42 L295.48 144.47 L295.18 144.46 L294.84 144.41 L294.54 144.31 L294.2 144.16 L293.87 143.97 L293.57 143.75 L293.25 143.48 L292.94 143.19 L292.66 142.87 L292.36 142.54 L292.08 142.19 L291.8 141.84 L291.53 141.48 L291.26 141.14 L291.01 140.81 L290.76 140.5 L290.49 140.21 L290.25 139.95 L290.01 139.73 L289.74 139.55 L289.49 139.4 L289.21 139.3 L288.95 139.24 L288.68 139.22 L288.37 139.24 L288.09 139.31 L287.79 139.42 L287.45 139.55 L287.13 139.72 L286.8 139.91 L286.43 140.12 L286.07 140.34 L285.69 140.57 L285.32 140.81 L284.93 141.04 L284.54 141.26 L284.15 141.46 L283.75 141.64 L283.38 141.8 L282.99 141.91 L282.61 141.99 L282.27 142.04 L281.91 142.04 L281.6 142 L281.28 141.91 L280.97 141.77 L280.72 141.6 L280.45 141.37 L280.21 141.1 L280.02 140.81 L279.82 140.47 L279.66 140.11 L279.5 139.71 L279.37 139.29 L279.25 138.87 L279.15 138.43 L279.05 138 L278.96 137.56 L278.87 137.13 L278.79 136.73 L278.68 136.32 L278.59 135.96 L278.46 135.6 L278.34 135.29 L278.21 135.02 L278.02 134.75 L277.85 134.55 L277.64 134.38 L277.39 134.22 L277.13 134.12 L276.82 134.03 L276.52 133.99 L276.18 133.98 L275.8 133.97 L275.42 134 L275.02 134.04 L274.59 134.07 L274.16 134.12 L273.71 134.17 L273.27 134.21 L272.82 134.24 L272.38 134.26 L271.95 134.26 L271.52 134.23 L271.14 134.19 L270.76 134.1 L270.4 133.98 L270.1 133.85 L269.8 133.66 L269.57 133.47 L269.34 133.22 L269.16 132.93 L269.04 132.64 L268.93 132.3 L268.86 131.93 L268.84 131.56 L268.83 131.15 L268.86 130.73 L268.92 130.32 L268.99 129.88 L269.09 129.44 L269.19 129 L269.29 128.57 L269.4 128.14 L269.5 127.73 L269.59 127.34 L269.66 126.94 L269.72 126.59 L269.75 126.26 L269.74 125.92 L269.71 125.63 L269.63 125.33 L269.53 125.09 L269.39 124.86 L269.19 124.63 L268.97 124.44 L268.72 124.27 L268.42 124.08 L268.1 123.93 L267.73 123.77 L267.36 123.63 L266.97 123.49 L266.55 123.34 L266.13 123.19 L265.71 123.03 L265.3 122.87 L264.89 122.69 L264.49 122.5 L264.13 122.31 L263.79 122.09 L263.48 121.87 L263.21 121.61 L262.97 121.34 L262.79 121.08 L262.64 120.77 L262.54 120.45 L262.5 120.15 L262.5 119.8 L262.55 119.48 L262.64 119.11 L262.77 118.75 L262.94 118.4 L263.14 118.03 L263.37 117.67 L263.62 117.32 L263.89 116.96 L264.17 116.61 L264.46 116.26 L264.74 115.92 L265.01 115.59 L265.27 115.27 L265.5 114.96 L265.71 114.64 L265.89 114.35 L266.04 114.07 L266.14 113.76 L266.21 113.49 L266.23 113.19 L266.21 112.93 L266.14 112.67 L266.04 112.37 L265.89 112.11 L265.7 111.84 L265.48 111.54 L265.24 111.26 L264.96 110.97 L264.67 110.66 L264.36 110.35 L264.05 110.04 L263.74 109.72 L263.43 109.39 L263.14 109.06 L262.86 108.72 L262.61 108.37 L262.39 108.04 L262.21 107.69 L262.06 107.33 L261.96 107.01 L261.91 106.67 L261.89 106.36 L261.94 106.02 L262.03 105.7 L262.16 105.42 L262.34 105.11 L262.57 104.82 L262.83 104.58 L263.14 104.31 L263.47 104.09 L263.83 103.85 L264.21 103.63 L264.61 103.43 L265.01 103.23 L265.42 103.04 L265.82 102.86 L266.21 102.68 L266.58 102.51 L266.94 102.32 L267.27 102.14 L267.57 101.93 L267.83 101.75 L268.05 101.55 L268.25 101.3 L268.39 101.08 L268.49 100.84 L268.57 100.54 L268.59 100.26 L268.59 99.93 L268.55 99.62 L268.47 99.28 L268.39 98.9 L268.27 98.53 L268.13 98.13 L268 97.72 L267.85 97.3 L267.71 96.88 L267.57 96.45 L267.45 96.02 L267.34 95.61 L267.26 95.18 L267.21 94.77 L267.18 94.39 L267.2 94.01 L267.25 93.64 L267.33 93.33 L267.46 93.01 L267.61 92.75 L267.83 92.49 L268.09 92.26 L268.36 92.09 L268.68 91.93 L269.04 91.79 L269.41 91.7 L269.82 91.62 L270.24 91.56 L270.67 91.53 L271.12 91.52 L271.56 91.51 L272.01 91.52 L272.45 91.53 L272.89 91.53 L273.31 91.54 L273.7 91.54 L274.09 91.51 L274.44 91.47 L274.76 91.42 L275.07 91.32 L275.33 91.22 L275.59 91.05 L275.79 90.89 L275.97 90.69 L276.14 90.43 L276.27 90.16 L276.37 89.86 L276.47 89.51 L276.54 89.15 L276.61 88.75 L276.66 88.35 L276.71 87.92 L276.77 87.48 L276.82 87.04 L276.88 86.59 L276.95 86.16 L277.04 85.72 L277.15 85.3 L277.26 84.92 L277.42 84.54 L277.57 84.21 L277.77 83.9 L278 83.63 L278.22 83.41 L278.5 83.22 L278.81 83.07 L279.1 82.99 L279.45 82.93 L279.78 82.92 L280.16 82.95 L280.55 83.01 L280.93 83.12 L281.34 83.24 L281.75 83.4 L282.15 83.57 L282.56 83.76 L282.96 83.96 L283.36 84.16 L283.74 84.36 L284.13 84.54 L284.49 84.71 L284.84 84.87 L285.19 84.99 L285.51 85.08 L285.8 85.15 L286.12 85.16 L286.39 85.15 L286.65 85.09 L286.93 84.98 L287.17 84.84 L287.43 84.65 L287.65 84.43 L287.87 84.17 L288.11 83.88 L288.33 83.56 L288.55 83.22 L288.79 82.86 L289.02 82.49 L289.26 82.11 L289.51 81.74 L289.77 81.37 L290.02 81.02 L290.3 80.69 L290.59 80.38 L290.86 80.1 L291.17 79.86 L291.49 79.66 L291.78 79.51 L292.11 79.4 L292.41 79.34 L292.74 79.33 L293.08 79.37 L293.38 79.46 L293.72 79.59 L294.05 79.77 L294.35 79.99 L294.67 80.25 L294.97 80.53 L295.27 80.85 L295.57 81.18 L295.85 81.52 L296.13 81.87 L296.4 82.23 L296.67 82.57 L296.92 82.91 L297.17 83.22 L297.44 83.52 L297.68 83.78 L297.95 84.02 L298.19 84.21 L298.44 84.36 L298.72 84.48 L298.98 84.55 L299.24 84.57 L299.55 84.57 L299.83 84.51 L300.16 84.42 L300.46 84.29 L300.78 84.13 L301.13 83.95 L301.48 83.74 L301.83 83.51 L302.21 83.29 L302.59 83.05 L302.97 82.82 L303.36 82.6 L303.75 82.39 L304.13 82.2 L304.53 82.04 L304.92 81.92 L305.27 81.82 L305.65 81.77 L306.01 81.76 L306.32 81.78 L306.65 81.87 L306.97 81.99 L307.22 82.15 L307.49 82.37 L307.71 82.62 L307.94 82.92 L308.14 83.25 L308.3 83.6 L308.46 83.99 L308.6 84.4 L308.72 84.82 L308.83 85.26 L308.93 85.69 L309.02 86.13 L309.11 86.56 L309.2 86.98 L309.29 87.38 L309.38 87.75 L309.51 88.11 L309.62 88.43 L309.75 88.71 L309.93 88.98 L310.1 89.2 L310.33 89.4 L310.55 89.54 L310.79 89.65 L311.1 89.75 L311.4 89.79 L311.73 89.81 L312.1 89.83 L312.48 89.81 L312.89 89.78 L313.3 89.74 L313.73 89.69 L314.18 89.64 L314.62 89.6 L315.07 89.57 L315.51 89.54 L315.95 89.54 L316.37 89.57 L316.77 89.6 L317.16 89.68 L317.5 89.77 L317.83 89.91 L318.13 90.09 L318.38 90.28 L318.61 90.52 L318.8 90.8 L318.94 91.08 L319.05 91.42 L319.12 91.76 L319.16 92.14 L319.17 92.55 L319.14 92.95 L319.1 93.38 L319.03 93.81 L318.94 94.25 L318.84 94.69 L318.73 95.12 L318.63 95.55 L318.52 95.96 L318.44 96.38 L318.35 96.76 L318.29 97.12 L318.27 97.48 L318.26 97.8 L318.28 98.09 L318.35 98.4 L318.44 98.65 L318.57 98.88 L318.76 99.12 L318.96 99.31 L319.22 99.51 L319.5 99.68 L319.82 99.83 L320.17 99.99 L320.54 100.13 L320.93 100.27 L321.34 100.43 L321.76 100.57 L322.18 100.73 L322.6 100.89 L323.01 101.06 L323.4 101.24 L323.78 101.44 L324.13 101.66 L324.44 101.87 L324.73 102.13 L324.98 102.4 L325.17 102.66 L325.33 102.96 L325.43 103.25 L325.49 103.58 L325.51 103.92 L325.47 104.24 L325.39 104.6 L325.27 104.97 L325.11 105.31 L324.91 105.68 L324.69 106.03 L324.44 106.4 L324.18 106.76 L323.9 107.11 L323.61 107.45 L323.33 107.79 L323.06 108.13 L322.8 108.45 L322.55 108.76 L322.34 109.08 L322.15 109.37 L322 109.68 L321.88 109.96 L321.8 110.23 L321.77 110.53 L321.78 110.79 L321.84 111.06 L321.93 111.35 L322.07 111.62 L322.25 111.92" stroke="#444444" stroke-width="0.95" fill="none"/><ellipse cx="282.4" cy="102.7" rx="3.3" ry="2.6" fill="#767676"/><ellipse cx="294.4" cy="97.3" rx="3.3" ry="2.6" fill="#767676"/><rect x="417" y="87.6" width="171.5" height="50.4" rx="13.5" fill="#e4e4e4" stroke="#7e7e7e" stroke-width="3"/><path d="M436.76 87.6L436.8 80.3M455.26 87.6L455.3 80.3M473.76 87.6L473.8 80.3M492.26 87.6L492.3 80.3M510.76 87.6L510.8 80.3M529.26 87.6L529.3 80.3M547.76 87.6L547.8 80.3M566.26 87.6L566.3 80.3M438.43 138L438.5 145.2M456.93 138L457 145.2M475.43 138L475.5 145.2M493.93 138L494 145.2M512.43 138L512.5 145.2M530.93 138L531 145.2M549.43 138L549.5 145.2M567.93 138L568 145.2M417 104.14L408.8 104.1M417 123.14L408.8 123.1M588.5 102.27L595.9 102.2M588.5 121.77L595.9 121.7M421.77 90.8L417.4 85.9M422.3 135.22L418.6 140.3M582.64 89.97L586.5 84.6M583.49 134.99L587.5 139.7M586.99 92.6L590.77 89.97M589.19 97.26L593.64 96.1M589.7 108.77L594.3 108.77M589.7 115.27L594.3 115.27M589.49 126.97L594.02 127.78M587.75 131.81L591.72 134.14M578.94 138.66L580.1 143.11M573.43 139.2L573.43 143.8M561.68 139.2L561.68 143.8M555.68 139.2L555.68 143.8M543.18 139.2L543.18 143.8M537.18 139.2L537.18 143.8M524.68 139.2L524.68 143.8M518.68 139.2L518.68 143.8M506.18 139.2L506.18 143.8M500.18 139.2L500.18 143.8M487.68 139.2L487.68 143.8M481.68 139.2L481.68 143.8M469.18 139.2L469.18 143.8M463.18 139.2L463.18 143.8M450.68 139.2L450.68 143.8M444.68 139.2L444.68 143.8M432.93 139.2L432.93 143.8M426.91 138.75L425.75 143.2M418.23 132.59L414.36 135.07M416.19 127.87L411.7 128.85M415.8 116.89L411.2 116.89M415.8 110.39L411.2 110.39M415.96 98.98L411.4 98.35M417.58 94.1L413.52 91.93M425.93 87.13L424.43 82.78M431.51 86.4L431.51 81.8M443.01 86.4L443.01 81.8M449.01 86.4L449.01 81.8M461.51 86.4L461.51 81.8M467.51 86.4L467.51 81.8M480.01 86.4L480.01 81.8M486.01 86.4L486.01 81.8M498.51 86.4L498.51 81.8M504.51 86.4L504.51 81.8M517.01 86.4L517.01 81.8M523.01 86.4L523.01 81.8M535.51 86.4L535.51 81.8M541.51 86.4L541.51 81.8M554.01 86.4L554.01 81.8M560.01 86.4L560.01 81.8M571.76 86.4L571.76 81.8M577.82 86.67L578.63 82.15" stroke="#7e7e7e" stroke-width="1.6" fill="none"/><g fill="#606060"><circle cx="436.8" cy="80.3" r="3.4"/><circle cx="455.3" cy="80.3" r="3.4"/><circle cx="473.8" cy="80.3" r="3.4"/><circle cx="492.3" cy="80.3" r="3.4"/><circle cx="510.8" cy="80.3" r="3.4"/><circle cx="529.3" cy="80.3" r="3.4"/><circle cx="547.8" cy="80.3" r="3.4"/><circle cx="566.3" cy="80.3" r="3.4"/><circle cx="438.5" cy="145.2" r="3.4"/><circle cx="457" cy="145.2" r="3.4"/><circle cx="475.5" cy="145.2" r="3.4"/><circle cx="494" cy="145.2" r="3.4"/><circle cx="512.5" cy="145.2" r="3.4"/><circle cx="531" cy="145.2" r="3.4"/><circle cx="549.5" cy="145.2" r="3.4"/><circle cx="568" cy="145.2" r="3.4"/><circle cx="408.8" cy="104.1" r="3.4"/><circle cx="408.8" cy="123.1" r="3.4"/><circle cx="595.9" cy="102.2" r="3.4"/><circle cx="595.9" cy="121.7" r="3.4"/><circle cx="417.4" cy="85.9" r="3.4"/><circle cx="418.6" cy="140.3" r="3.4"/><circle cx="586.5" cy="84.6" r="3.4"/><circle cx="587.5" cy="139.7" r="3.4"/></g><g fill="#7e7e7e"><circle cx="424.4" cy="113.1" r="3.05"/><circle cx="425.83" cy="106.26" r="3.05"/><circle cx="429.87" cy="100.56" r="3.05"/><circle cx="435.86" cy="96.96" r="3.05"/><circle cx="442.79" cy="96" r="3.05"/><circle cx="449.82" cy="96" r="3.05"/><circle cx="456.86" cy="96" r="3.05"/><circle cx="463.9" cy="96" r="3.05"/><circle cx="470.93" cy="96" r="3.05"/><circle cx="477.97" cy="96" r="3.05"/><circle cx="485.01" cy="96" r="3.05"/><circle cx="492.04" cy="96" r="3.05"/><circle cx="499.08" cy="96" r="3.05"/><circle cx="506.12" cy="96" r="3.05"/><circle cx="513.16" cy="96" r="3.05"/><circle cx="520.19" cy="96" r="3.05"/><circle cx="527.23" cy="96" r="3.05"/><circle cx="534.27" cy="96" r="3.05"/><circle cx="541.3" cy="96" r="3.05"/><circle cx="548.34" cy="96" r="3.05"/><circle cx="555.38" cy="96" r="3.05"/><circle cx="562.41" cy="96" r="3.05"/><circle cx="569.34" cy="96.96" r="3.05"/><circle cx="575.33" cy="100.56" r="3.05"/><circle cx="579.37" cy="106.26" r="3.05"/><circle cx="580.8" cy="113.1" r="3.05"/><circle cx="579.37" cy="119.94" r="3.05"/><circle cx="575.33" cy="125.64" r="3.05"/><circle cx="569.34" cy="129.24" r="3.05"/><circle cx="562.41" cy="130.2" r="3.05"/><circle cx="555.38" cy="130.2" r="3.05"/><circle cx="548.34" cy="130.2" r="3.05"/><circle cx="541.3" cy="130.2" r="3.05"/><circle cx="534.27" cy="130.2" r="3.05"/><circle cx="527.23" cy="130.2" r="3.05"/><circle cx="520.19" cy="130.2" r="3.05"/><circle cx="513.16" cy="130.2" r="3.05"/><circle cx="506.12" cy="130.2" r="3.05"/><circle cx="499.08" cy="130.2" r="3.05"/><circle cx="492.04" cy="130.2" r="3.05"/><circle cx="485.01" cy="130.2" r="3.05"/><circle cx="477.97" cy="130.2" r="3.05"/><circle cx="470.93" cy="130.2" r="3.05"/><circle cx="463.9" cy="130.2" r="3.05"/><circle cx="456.86" cy="130.2" r="3.05"/><circle cx="449.82" cy="130.2" r="3.05"/><circle cx="442.79" cy="130.2" r="3.05"/><circle cx="435.86" cy="129.24" r="3.05"/><circle cx="429.87" cy="125.64" r="3.05"/><circle cx="425.83" cy="119.94" r="3.05"/></g><path d="M561.75 106.4L561.7 108.33M562.69 107.86L562.8 107.28M563.22 108.97L564.34 106.27M563.87 109.51L566.13 105.82M564.91 109.54L567.74 106.23M566.41 109.39L568.79 107.57M568.25 109.62L568.87 109.29M569.9 110.42L568.18 111.04M570.85 111.77L567.13 112.45M570.77 113.47L566.25 113.35M569.7 114.85L565.93 114.15M568.05 115.76L566.23 115.11M566.37 116.13L566.88 116.44M565.09 116.33L567.32 118.23M564.36 116.76L567.17 120.05M564.07 117.66L566.15 121.48M563.65 119.15L564.65 121.98M562.85 120.8L562.97 121.48M561.52 122.09L561.52 120.26M560.32 122.67L560.32 118.9M559.12 122.47L559.12 117.95M557.92 121.55L557.92 117.72M556.72 120.2L556.72 118.27M555.52 118.85L555.52 119.44M554.32 117.93L554.32 120.85M553.12 117.73L553.12 122.05M551.92 118.31L551.92 122.67M550.72 119.5L550.72 122.5M549.52 120.9L549.52 121.6M548.32 122.09L548.32 120.26M547.12 122.67L547.12 118.9M545.92 122.47L545.92 117.95M544.72 121.55L544.72 117.72M543.52 120.2L543.52 118.27M542.32 118.85L542.32 119.44M541.12 117.93L541.12 120.85M539.92 117.73L539.92 122.05M538.72 118.31L538.72 122.67M537.52 119.5L537.52 122.5M536.32 120.9L536.32 121.6M535.12 122.09L535.12 120.26M533.92 122.67L533.92 118.9M532.72 122.47L532.72 117.95M531.52 121.55L531.52 117.72M530.32 120.2L530.32 118.27M529.12 118.85L529.12 119.44M527.92 117.93L527.92 120.85M526.72 117.73L526.72 122.05M525.52 118.31L525.52 122.67M524.32 119.5L524.32 122.5M523.12 120.9L523.12 121.6M521.92 122.09L521.92 120.26M520.72 122.67L520.72 118.9M519.52 122.47L519.52 117.95M518.32 121.55L518.32 117.72M517.12 120.2L517.12 118.27M515.92 118.85L515.92 119.44M514.72 117.93L514.72 120.85M513.52 117.73L513.52 122.05M512.32 118.31L512.32 122.67M511.12 119.5L511.12 122.5M509.92 120.9L509.92 121.6M508.72 122.09L508.72 120.26M507.52 122.67L507.52 118.9M506.32 122.47L506.32 117.95M505.12 121.55L505.12 117.72M503.92 120.2L503.92 118.27M502.72 118.85L502.72 119.44M501.52 117.93L501.52 120.85M500.32 117.73L500.32 122.05M499.12 118.31L499.12 122.67M497.92 119.5L497.92 122.5M496.72 120.9L496.72 121.6M495.52 122.09L495.52 120.26M494.32 122.67L494.32 118.9M493.12 122.47L493.12 117.95M491.92 121.55L491.92 117.72M490.72 120.2L490.72 118.27M489.52 118.85L489.52 119.44M488.32 117.93L488.32 120.85M487.12 117.73L487.12 122.05M485.92 118.31L485.92 122.67M484.72 119.5L484.72 122.5M483.52 120.9L483.52 121.6M482.32 122.09L482.32 120.26M481.12 122.67L481.12 118.9M479.92 122.47L479.92 117.95M478.72 121.55L478.72 117.72M477.52 120.2L477.52 118.27M476.32 118.85L476.32 119.44M475.12 117.93L475.12 120.85M473.92 117.73L473.92 122.05M472.72 118.31L472.72 122.67M471.52 119.5L471.52 122.5M470.32 120.9L470.32 121.6M469.12 122.09L469.12 120.26M467.92 122.67L467.92 118.9M466.72 122.47L466.72 117.95M465.52 121.55L465.52 117.72M464.32 120.2L464.32 118.27M463.12 118.85L463.12 119.44M461.92 117.93L461.92 120.85M460.72 117.73L460.72 122.05M459.52 118.31L459.52 122.67M458.32 119.5L458.32 122.5M457.12 120.9L457.12 121.6M455.92 122.09L455.92 120.26M454.72 122.67L454.72 118.9M453.52 122.47L453.52 117.95M452.32 121.55L452.32 117.72M451.12 120.2L451.12 118.27M449.92 118.85L449.92 119.44M448.72 117.93L448.72 120.85M447.52 117.73L447.52 122.05M446.32 118.31L446.32 122.67M445.12 119.5L445.12 122.5M443.92 120.9L443.92 121.6M442.58 122.05L442.72 120.22M440.84 122.32L441.92 118.7M439.45 121.58L441.39 117.49M438.63 120.03L440.8 116.87M438.48 118.14L439.88 116.81M438.83 116.45L438.35 116.78M439.18 115.19L436.54 116.45M439.13 114.46L434.92 115.47M438.41 113.71L434.07 114.05M437.23 112.72L434.24 112.48M436.07 111.28L435.4 111.09M435.46 109.55L437.11 110.34M435.72 107.92L438.84 110.06M436.97 106.76L440.08 110.04M438.69 106.53L440.86 109.69M440.5 107.04L441.32 108.78M441.94 107.95L441.8 107.37M442.98 108.7L442.75 105.78M444 108.87L444 104.55M445.2 108.29L445.2 103.93M446.4 107.1L446.4 104.1M447.6 105.7L447.6 105M448.8 104.51L448.8 106.34M450 103.93L450 107.7M451.2 104.13L451.2 108.65M452.4 105.05L452.4 108.88M453.6 106.4L453.6 108.33M454.8 107.75L454.8 107.16M456 108.67L456 105.75M457.2 108.87L457.2 104.55M458.4 108.29L458.4 103.93M459.6 107.1L459.6 104.1M460.8 105.7L460.8 105M462 104.51L462 106.34M463.2 103.93L463.2 107.7M464.4 104.13L464.4 108.65M465.6 105.05L465.6 108.88M466.8 106.4L466.8 108.33M468 107.75L468 107.16M469.2 108.67L469.2 105.75M470.4 108.87L470.4 104.55M471.6 108.29L471.6 103.93M472.8 107.1L472.8 104.1M474 105.7L474 105M475.2 104.51L475.2 106.34M476.4 103.93L476.4 107.7M477.6 104.13L477.6 108.65M478.8 105.05L478.8 108.88M480 106.4L480 108.33M481.2 107.75L481.2 107.16M482.4 108.67L482.4 105.75M483.6 108.87L483.6 104.55M484.8 108.29L484.8 103.93M486 107.1L486 104.1M487.2 105.7L487.2 105M488.4 104.51L488.4 106.34M489.6 103.93L489.6 107.7M490.8 104.13L490.8 108.65M492 105.05L492 108.88M493.2 106.4L493.2 108.33M494.4 107.75L494.4 107.16M495.6 108.67L495.6 105.75M496.8 108.87L496.8 104.55M498 108.29L498 103.93M499.2 107.1L499.2 104.1M500.4 105.7L500.4 105M501.6 104.51L501.6 106.34M502.8 103.93L502.8 107.7M504 104.13L504 108.65M505.2 105.05L505.2 108.88M506.4 106.4L506.4 108.33M507.6 107.75L507.6 107.16M508.8 108.67L508.8 105.75M510 108.87L510 104.55M511.2 108.29L511.2 103.93M512.4 107.1L512.4 104.1M513.6 105.7L513.6 105M514.8 104.51L514.8 106.34M516 103.93L516 107.7M517.2 104.13L517.2 108.65M518.4 105.05L518.4 108.88M519.6 106.4L519.6 108.33M520.8 107.75L520.8 107.16M522 108.67L522 105.75M523.2 108.87L523.2 104.55M524.4 108.29L524.4 103.93M525.6 107.1L525.6 104.1M526.8 105.7L526.8 105M528 104.51L528 106.34M529.2 103.93L529.2 107.7M530.4 104.13L530.4 108.65M531.6 105.05L531.6 108.88M532.8 106.4L532.8 108.33M534 107.75L534 107.16M535.2 108.67L535.2 105.75M536.4 108.87L536.4 104.55M537.6 108.29L537.6 103.93M538.8 107.1L538.8 104.1M540 105.7L540 105M541.2 104.51L541.2 106.34M542.4 103.93L542.4 107.7M543.6 104.13L543.6 108.65M544.8 105.05L544.8 108.88M546 106.4L546 108.33M547.2 107.75L547.2 107.16M548.4 108.67L548.4 105.75M549.6 108.87L549.6 104.55M550.8 108.29L550.8 103.93M552 107.1L552 104.1M553.2 105.7L553.2 105M554.4 104.51L554.4 106.34M555.6 103.93L555.6 107.7M556.8 104.13L556.8 108.65M558 105.05L558 108.88M559.2 106.4L559.2 108.33M560.4 107.75L560.4 107.16" stroke="#7c7c7c" stroke-width="0.5" fill="none"/><path d="M561.75 106.4 L562.02 106.77 L562.26 107.14 L562.51 107.51 L562.69 107.86 L562.85 108.19 L562.99 108.49 L563.11 108.75 L563.22 108.97 L563.45 109.2 L563.58 109.34 L563.71 109.44 L563.87 109.51 L564.06 109.53 L564.28 109.53 L564.63 109.58 L564.91 109.54 L565.23 109.49 L565.59 109.45 L565.98 109.41 L566.41 109.39 L566.87 109.42 L567.32 109.45 L567.79 109.52 L568.25 109.62 L568.71 109.78 L569.15 109.98 L569.53 110.15 L569.9 110.42 L570.23 110.74 L570.5 111.1 L570.72 111.49 L570.85 111.77 L570.93 112.19 L570.95 112.62 L570.89 113.05 L570.77 113.47 L570.58 113.88 L570.35 114.16 L570.05 114.52 L569.7 114.85 L569.32 115.14 L568.91 115.39 L568.48 115.59 L568.05 115.76 L567.6 115.9 L567.17 116 L566.76 116.08 L566.37 116.13 L566.02 116.16 L565.64 116.27 L565.34 116.3 L565.09 116.33 L564.88 116.38 L564.71 116.45 L564.57 116.55 L564.36 116.76 L564.27 116.92 L564.19 117.13 L564.13 117.37 L564.07 117.66 L564 117.98 L563.86 118.37 L563.76 118.75 L563.65 119.15 L563.49 119.56 L563.31 119.98 L563.08 120.4 L562.85 120.8 L562.56 121.18 L562.23 121.53 L561.87 121.83 L561.52 122.09 L561.22 122.3 L560.92 122.47 L560.62 122.6 L560.32 122.67 L560.02 122.7 L559.72 122.67 L559.42 122.6 L559.12 122.47 L558.82 122.3 L558.52 122.09 L558.22 121.84 L557.92 121.55 L557.62 121.24 L557.32 120.9 L557.02 120.56 L556.72 120.2 L556.42 119.84 L556.12 119.5 L555.82 119.16 L555.52 118.85 L555.22 118.56 L554.92 118.31 L554.62 118.1 L554.32 117.93 L554.02 117.8 L553.72 117.73 L553.42 117.7 L553.12 117.73 L552.82 117.8 L552.52 117.93 L552.22 118.1 L551.92 118.31 L551.62 118.56 L551.32 118.85 L551.02 119.16 L550.72 119.5 L550.42 119.84 L550.12 120.2 L549.82 120.56 L549.52 120.9 L549.22 121.24 L548.92 121.55 L548.62 121.84 L548.32 122.09 L548.02 122.3 L547.72 122.47 L547.42 122.6 L547.12 122.67 L546.82 122.7 L546.52 122.67 L546.22 122.6 L545.92 122.47 L545.62 122.3 L545.32 122.09 L545.02 121.84 L544.72 121.55 L544.42 121.24 L544.12 120.9 L543.82 120.56 L543.52 120.2 L543.22 119.84 L542.92 119.5 L542.62 119.16 L542.32 118.85 L542.02 118.56 L541.72 118.31 L541.42 118.1 L541.12 117.93 L540.82 117.8 L540.52 117.73 L540.22 117.7 L539.92 117.73 L539.62 117.8 L539.32 117.93 L539.02 118.1 L538.72 118.31 L538.42 118.56 L538.12 118.85 L537.82 119.16 L537.52 119.5 L537.22 119.84 L536.92 120.2 L536.62 120.56 L536.32 120.9 L536.02 121.24 L535.72 121.55 L535.42 121.84 L535.12 122.09 L534.82 122.3 L534.52 122.47 L534.22 122.6 L533.92 122.67 L533.62 122.7 L533.32 122.67 L533.02 122.6 L532.72 122.47 L532.42 122.3 L532.12 122.09 L531.82 121.84 L531.52 121.55 L531.22 121.24 L530.92 120.9 L530.62 120.56 L530.32 120.2 L530.02 119.84 L529.72 119.5 L529.42 119.16 L529.12 118.85 L528.82 118.56 L528.52 118.31 L528.22 118.1 L527.92 117.93 L527.62 117.8 L527.32 117.73 L527.02 117.7 L526.72 117.73 L526.42 117.8 L526.12 117.93 L525.82 118.1 L525.52 118.31 L525.22 118.56 L524.92 118.85 L524.62 119.16 L524.32 119.5 L524.02 119.84 L523.72 120.2 L523.42 120.56 L523.12 120.9 L522.82 121.24 L522.52 121.55 L522.22 121.84 L521.92 122.09 L521.62 122.3 L521.32 122.47 L521.02 122.6 L520.72 122.67 L520.42 122.7 L520.12 122.67 L519.82 122.6 L519.52 122.47 L519.22 122.3 L518.92 122.09 L518.62 121.84 L518.32 121.55 L518.02 121.24 L517.72 120.9 L517.42 120.56 L517.12 120.2 L516.82 119.84 L516.52 119.5 L516.22 119.16 L515.92 118.85 L515.62 118.56 L515.32 118.31 L515.02 118.1 L514.72 117.93 L514.42 117.8 L514.12 117.73 L513.82 117.7 L513.52 117.73 L513.22 117.8 L512.92 117.93 L512.62 118.1 L512.32 118.31 L512.02 118.56 L511.72 118.85 L511.42 119.16 L511.12 119.5 L510.82 119.84 L510.52 120.2 L510.22 120.56 L509.92 120.9 L509.62 121.24 L509.32 121.55 L509.02 121.84 L508.72 122.09 L508.42 122.3 L508.12 122.47 L507.82 122.6 L507.52 122.67 L507.22 122.7 L506.92 122.67 L506.62 122.6 L506.32 122.47 L506.02 122.3 L505.72 122.09 L505.42 121.84 L505.12 121.55 L504.82 121.24 L504.52 120.9 L504.22 120.56 L503.92 120.2 L503.62 119.84 L503.32 119.5 L503.02 119.16 L502.72 118.85 L502.42 118.56 L502.12 118.31 L501.82 118.1 L501.52 117.93 L501.22 117.8 L500.92 117.73 L500.62 117.7 L500.32 117.73 L500.02 117.8 L499.72 117.93 L499.42 118.1 L499.12 118.31 L498.82 118.56 L498.52 118.85 L498.22 119.16 L497.92 119.5 L497.62 119.84 L497.32 120.2 L497.02 120.56 L496.72 120.9 L496.42 121.24 L496.12 121.55 L495.82 121.84 L495.52 122.09 L495.22 122.3 L494.92 122.47 L494.62 122.6 L494.32 122.67 L494.02 122.7 L493.72 122.67 L493.42 122.6 L493.12 122.47 L492.82 122.3 L492.52 122.09 L492.22 121.84 L491.92 121.55 L491.62 121.24 L491.32 120.9 L491.02 120.56 L490.72 120.2 L490.42 119.84 L490.12 119.5 L489.82 119.16 L489.52 118.85 L489.22 118.56 L488.92 118.31 L488.62 118.1 L488.32 117.93 L488.02 117.8 L487.72 117.73 L487.42 117.7 L487.12 117.73 L486.82 117.8 L486.52 117.93 L486.22 118.1 L485.92 118.31 L485.62 118.56 L485.32 118.85 L485.02 119.16 L484.72 119.5 L484.42 119.84 L484.12 120.2 L483.82 120.56 L483.52 120.9 L483.22 121.24 L482.92 121.55 L482.62 121.84 L482.32 122.09 L482.02 122.3 L481.72 122.47 L481.42 122.6 L481.12 122.67 L480.82 122.7 L480.52 122.67 L480.22 122.6 L479.92 122.47 L479.62 122.3 L479.32 122.09 L479.02 121.84 L478.72 121.55 L478.42 121.24 L478.12 120.9 L477.82 120.56 L477.52 120.2 L477.22 119.84 L476.92 119.5 L476.62 119.16 L476.32 118.85 L476.02 118.56 L475.72 118.31 L475.42 118.1 L475.12 117.93 L474.82 117.8 L474.52 117.73 L474.22 117.7 L473.92 117.73 L473.62 117.8 L473.32 117.93 L473.02 118.1 L472.72 118.31 L472.42 118.56 L472.12 118.85 L471.82 119.16 L471.52 119.5 L471.22 119.84 L470.92 120.2 L470.62 120.56 L470.32 120.9 L470.02 121.24 L469.72 121.55 L469.42 121.84 L469.12 122.09 L468.82 122.3 L468.52 122.47 L468.22 122.6 L467.92 122.67 L467.62 122.7 L467.32 122.67 L467.02 122.6 L466.72 122.47 L466.42 122.3 L466.12 122.09 L465.82 121.84 L465.52 121.55 L465.22 121.24 L464.92 120.9 L464.62 120.56 L464.32 120.2 L464.02 119.84 L463.72 119.5 L463.42 119.16 L463.12 118.85 L462.82 118.56 L462.52 118.31 L462.22 118.1 L461.92 117.93 L461.62 117.8 L461.32 117.73 L461.02 117.7 L460.72 117.73 L460.42 117.8 L460.12 117.93 L459.82 118.1 L459.52 118.31 L459.22 118.56 L458.92 118.85 L458.62 119.16 L458.32 119.5 L458.02 119.84 L457.72 120.2 L457.42 120.56 L457.12 120.9 L456.82 121.24 L456.52 121.55 L456.22 121.84 L455.92 122.09 L455.62 122.3 L455.32 122.47 L455.02 122.6 L454.72 122.67 L454.42 122.7 L454.12 122.67 L453.82 122.6 L453.52 122.47 L453.22 122.3 L452.92 122.09 L452.62 121.84 L452.32 121.55 L452.02 121.24 L451.72 120.9 L451.42 120.56 L451.12 120.2 L450.82 119.84 L450.52 119.5 L450.22 119.16 L449.92 118.85 L449.62 118.56 L449.32 118.31 L449.02 118.1 L448.72 117.93 L448.42 117.8 L448.12 117.73 L447.82 117.7 L447.52 117.73 L447.22 117.8 L446.92 117.93 L446.62 118.1 L446.32 118.31 L446.02 118.56 L445.72 118.85 L445.42 119.16 L445.12 119.5 L444.82 119.84 L444.52 120.2 L444.22 120.56 L443.92 120.9 L443.62 121.24 L443.29 121.55 L442.9 121.82 L442.58 122.05 L442.15 122.21 L441.72 122.32 L441.28 122.35 L440.84 122.32 L440.43 122.22 L440.15 122.09 L439.78 121.86 L439.45 121.58 L439.15 121.24 L438.91 120.85 L438.71 120.44 L438.63 120.03 L438.52 119.56 L438.46 119.08 L438.45 118.6 L438.48 118.14 L438.53 117.68 L438.62 117.23 L438.72 116.82 L438.83 116.45 L438.95 116.11 L439.06 115.8 L439.11 115.44 L439.18 115.19 L439.23 114.98 L439.24 114.79 L439.2 114.62 L439.13 114.46 L438.99 114.19 L438.84 114.04 L438.64 113.88 L438.41 113.71 L438.14 113.52 L437.85 113.3 L437.55 112.99 L437.23 112.72 L436.92 112.41 L436.61 112.07 L436.33 111.69 L436.07 111.28 L435.83 110.9 L435.65 110.46 L435.53 110.01 L435.46 109.55 L435.45 109.09 L435.5 108.64 L435.55 108.32 L435.72 107.92 L435.96 107.56 L436.25 107.24 L436.59 106.97 L436.97 106.76 L437.31 106.68 L437.75 106.57 L438.22 106.52 L438.69 106.53 L439.16 106.59 L439.63 106.7 L440.06 106.86 L440.5 107.04 L440.91 107.25 L441.28 107.48 L441.63 107.71 L441.94 107.95 L442.3 108.16 L442.55 108.36 L442.78 108.55 L442.98 108.7 L443.16 108.81 L443.4 108.87 L443.7 108.9 L444 108.87 L444.3 108.8 L444.6 108.67 L444.9 108.5 L445.2 108.29 L445.5 108.04 L445.8 107.75 L446.1 107.44 L446.4 107.1 L446.7 106.76 L447 106.4 L447.3 106.04 L447.6 105.7 L447.9 105.36 L448.2 105.05 L448.5 104.76 L448.8 104.51 L449.1 104.3 L449.4 104.13 L449.7 104 L450 103.93 L450.3 103.9 L450.6 103.93 L450.9 104 L451.2 104.13 L451.5 104.3 L451.8 104.51 L452.1 104.76 L452.4 105.05 L452.7 105.36 L453 105.7 L453.3 106.04 L453.6 106.4 L453.9 106.76 L454.2 107.1 L454.5 107.44 L454.8 107.75 L455.1 108.04 L455.4 108.29 L455.7 108.5 L456 108.67 L456.3 108.8 L456.6 108.87 L456.9 108.9 L457.2 108.87 L457.5 108.8 L457.8 108.67 L458.1 108.5 L458.4 108.29 L458.7 108.04 L459 107.75 L459.3 107.44 L459.6 107.1 L459.9 106.76 L460.2 106.4 L460.5 106.04 L460.8 105.7 L461.1 105.36 L461.4 105.05 L461.7 104.76 L462 104.51 L462.3 104.3 L462.6 104.13 L462.9 104 L463.2 103.93 L463.5 103.9 L463.8 103.93 L464.1 104 L464.4 104.13 L464.7 104.3 L465 104.51 L465.3 104.76 L465.6 105.05 L465.9 105.36 L466.2 105.7 L466.5 106.04 L466.8 106.4 L467.1 106.76 L467.4 107.1 L467.7 107.44 L468 107.75 L468.3 108.04 L468.6 108.29 L468.9 108.5 L469.2 108.67 L469.5 108.8 L469.8 108.87 L470.1 108.9 L470.4 108.87 L470.7 108.8 L471 108.67 L471.3 108.5 L471.6 108.29 L471.9 108.04 L472.2 107.75 L472.5 107.44 L472.8 107.1 L473.1 106.76 L473.4 106.4 L473.7 106.04 L474 105.7 L474.3 105.36 L474.6 105.05 L474.9 104.76 L475.2 104.51 L475.5 104.3 L475.8 104.13 L476.1 104 L476.4 103.93 L476.7 103.9 L477 103.93 L477.3 104 L477.6 104.13 L477.9 104.3 L478.2 104.51 L478.5 104.76 L478.8 105.05 L479.1 105.36 L479.4 105.7 L479.7 106.04 L480 106.4 L480.3 106.76 L480.6 107.1 L480.9 107.44 L481.2 107.75 L481.5 108.04 L481.8 108.29 L482.1 108.5 L482.4 108.67 L482.7 108.8 L483 108.87 L483.3 108.9 L483.6 108.87 L483.9 108.8 L484.2 108.67 L484.5 108.5 L484.8 108.29 L485.1 108.04 L485.4 107.75 L485.7 107.44 L486 107.1 L486.3 106.76 L486.6 106.4 L486.9 106.04 L487.2 105.7 L487.5 105.36 L487.8 105.05 L488.1 104.76 L488.4 104.51 L488.7 104.3 L489 104.13 L489.3 104 L489.6 103.93 L489.9 103.9 L490.2 103.93 L490.5 104 L490.8 104.13 L491.1 104.3 L491.4 104.51 L491.7 104.76 L492 105.05 L492.3 105.36 L492.6 105.7 L492.9 106.04 L493.2 106.4 L493.5 106.76 L493.8 107.1 L494.1 107.44 L494.4 107.75 L494.7 108.04 L495 108.29 L495.3 108.5 L495.6 108.67 L495.9 108.8 L496.2 108.87 L496.5 108.9 L496.8 108.87 L497.1 108.8 L497.4 108.67 L497.7 108.5 L498 108.29 L498.3 108.04 L498.6 107.75 L498.9 107.44 L499.2 107.1 L499.5 106.76 L499.8 106.4 L500.1 106.04 L500.4 105.7 L500.7 105.36 L501 105.05 L501.3 104.76 L501.6 104.51 L501.9 104.3 L502.2 104.13 L502.5 104 L502.8 103.93 L503.1 103.9 L503.4 103.93 L503.7 104 L504 104.13 L504.3 104.3 L504.6 104.51 L504.9 104.76 L505.2 105.05 L505.5 105.36 L505.8 105.7 L506.1 106.04 L506.4 106.4 L506.7 106.76 L507 107.1 L507.3 107.44 L507.6 107.75 L507.9 108.04 L508.2 108.29 L508.5 108.5 L508.8 108.67 L509.1 108.8 L509.4 108.87 L509.7 108.9 L510 108.87 L510.3 108.8 L510.6 108.67 L510.9 108.5 L511.2 108.29 L511.5 108.04 L511.8 107.75 L512.1 107.44 L512.4 107.1 L512.7 106.76 L513 106.4 L513.3 106.04 L513.6 105.7 L513.9 105.36 L514.2 105.05 L514.5 104.76 L514.8 104.51 L515.1 104.3 L515.4 104.13 L515.7 104 L516 103.93 L516.3 103.9 L516.6 103.93 L516.9 104 L517.2 104.13 L517.5 104.3 L517.8 104.51 L518.1 104.76 L518.4 105.05 L518.7 105.36 L519 105.7 L519.3 106.04 L519.6 106.4 L519.9 106.76 L520.2 107.1 L520.5 107.44 L520.8 107.75 L521.1 108.04 L521.4 108.29 L521.7 108.5 L522 108.67 L522.3 108.8 L522.6 108.87 L522.9 108.9 L523.2 108.87 L523.5 108.8 L523.8 108.67 L524.1 108.5 L524.4 108.29 L524.7 108.04 L525 107.75 L525.3 107.44 L525.6 107.1 L525.9 106.76 L526.2 106.4 L526.5 106.04 L526.8 105.7 L527.1 105.36 L527.4 105.05 L527.7 104.76 L528 104.51 L528.3 104.3 L528.6 104.13 L528.9 104 L529.2 103.93 L529.5 103.9 L529.8 103.93 L530.1 104 L530.4 104.13 L530.7 104.3 L531 104.51 L531.3 104.76 L531.6 105.05 L531.9 105.36 L532.2 105.7 L532.5 106.04 L532.8 106.4 L533.1 106.76 L533.4 107.1 L533.7 107.44 L534 107.75 L534.3 108.04 L534.6 108.29 L534.9 108.5 L535.2 108.67 L535.5 108.8 L535.8 108.87 L536.1 108.9 L536.4 108.87 L536.7 108.8 L537 108.67 L537.3 108.5 L537.6 108.29 L537.9 108.04 L538.2 107.75 L538.5 107.44 L538.8 107.1 L539.1 106.76 L539.4 106.4 L539.7 106.04 L540 105.7 L540.3 105.36 L540.6 105.05 L540.9 104.76 L541.2 104.51 L541.5 104.3 L541.8 104.13 L542.1 104 L542.4 103.93 L542.7 103.9 L543 103.93 L543.3 104 L543.6 104.13 L543.9 104.3 L544.2 104.51 L544.5 104.76 L544.8 105.05 L545.1 105.36 L545.4 105.7 L545.7 106.04 L546 106.4 L546.3 106.76 L546.6 107.1 L546.9 107.44 L547.2 107.75 L547.5 108.04 L547.8 108.29 L548.1 108.5 L548.4 108.67 L548.7 108.8 L549 108.87 L549.3 108.9 L549.6 108.87 L549.9 108.8 L550.2 108.67 L550.5 108.5 L550.8 108.29 L551.1 108.04 L551.4 107.75 L551.7 107.44 L552 107.1 L552.3 106.76 L552.6 106.4 L552.9 106.04 L553.2 105.7 L553.5 105.36 L553.8 105.05 L554.1 104.76 L554.4 104.51 L554.7 104.3 L555 104.13 L555.3 104 L555.6 103.93 L555.9 103.9 L556.2 103.93 L556.5 104 L556.8 104.13 L557.1 104.3 L557.4 104.51 L557.7 104.76 L558 105.05 L558.3 105.36 L558.6 105.7 L558.9 106.04 L559.2 106.4 L559.5 106.76 L559.8 107.1 L560.1 107.44 L560.4 107.75 L560.7 108.04 L561 108.29 L561.3 108.5" stroke="#444444" stroke-width="1.15" fill="none"/><path d="M561.7 108.33 L561.92 108.09 L562.17 107.83 L562.5 107.56 L562.8 107.28 L563.14 107 L563.51 106.73 L563.91 106.48 L564.34 106.27 L564.75 106.07 L565.2 105.93 L565.67 105.85 L566.13 105.82 L566.59 105.85 L567.04 105.94 L567.36 106.02 L567.74 106.23 L568.08 106.49 L568.37 106.81 L568.61 107.17 L568.79 107.57 L568.84 107.9 L568.91 108.36 L568.92 108.82 L568.87 109.29 L568.76 109.76 L568.61 110.21 L568.4 110.62 L568.18 111.04 L567.93 111.43 L567.66 111.78 L567.39 112.1 L567.13 112.45 L566.87 112.72 L566.63 112.96 L566.42 113.17 L566.25 113.35 L566.11 113.53 L566 113.82 L565.95 113.98 L565.93 114.15 L565.96 114.33 L566.03 114.54 L566.14 114.76 L566.23 115.11 L566.38 115.39 L566.54 115.71 L566.71 116.05 L566.88 116.44 L567.02 116.86 L567.15 117.31 L567.25 117.76 L567.32 118.23 L567.34 118.71 L567.31 119.19 L567.23 119.66 L567.17 120.05 L566.99 120.47 L566.76 120.86 L566.48 121.2 L566.15 121.48 L565.78 121.72 L565.51 121.83 L565.09 121.94 L564.65 121.98 L564.2 121.95 L563.76 121.86 L563.32 121.7 L562.97 121.48 L562.56 121.23 L562.18 120.93 L561.84 120.61 L561.52 120.26 L561.22 119.9 L560.92 119.55 L560.62 119.21 L560.32 118.9 L560.02 118.61 L559.72 118.35 L559.42 118.13 L559.12 117.95 L558.82 117.82 L558.52 117.73 L558.22 117.7 L557.92 117.72 L557.62 117.79 L557.32 117.9 L557.02 118.07 L556.72 118.27 L556.42 118.52 L556.12 118.8 L555.82 119.11 L555.52 119.44 L555.22 119.79 L554.92 120.14 L554.62 120.5 L554.32 120.85 L554.02 121.19 L553.72 121.5 L553.42 121.79 L553.12 122.05 L552.82 122.27 L552.52 122.45 L552.22 122.58 L551.92 122.67 L551.62 122.7 L551.32 122.68 L551.02 122.61 L550.72 122.5 L550.42 122.33 L550.12 122.13 L549.82 121.88 L549.52 121.6 L549.22 121.29 L548.92 120.96 L548.62 120.61 L548.32 120.26 L548.02 119.9 L547.72 119.55 L547.42 119.21 L547.12 118.9 L546.82 118.61 L546.52 118.35 L546.22 118.13 L545.92 117.95 L545.62 117.82 L545.32 117.73 L545.02 117.7 L544.72 117.72 L544.42 117.79 L544.12 117.9 L543.82 118.07 L543.52 118.27 L543.22 118.52 L542.92 118.8 L542.62 119.11 L542.32 119.44 L542.02 119.79 L541.72 120.14 L541.42 120.5 L541.12 120.85 L540.82 121.19 L540.52 121.5 L540.22 121.79 L539.92 122.05 L539.62 122.27 L539.32 122.45 L539.02 122.58 L538.72 122.67 L538.42 122.7 L538.12 122.68 L537.82 122.61 L537.52 122.5 L537.22 122.33 L536.92 122.13 L536.62 121.88 L536.32 121.6 L536.02 121.29 L535.72 120.96 L535.42 120.61 L535.12 120.26 L534.82 119.9 L534.52 119.55 L534.22 119.21 L533.92 118.9 L533.62 118.61 L533.32 118.35 L533.02 118.13 L532.72 117.95 L532.42 117.82 L532.12 117.73 L531.82 117.7 L531.52 117.72 L531.22 117.79 L530.92 117.9 L530.62 118.07 L530.32 118.27 L530.02 118.52 L529.72 118.8 L529.42 119.11 L529.12 119.44 L528.82 119.79 L528.52 120.14 L528.22 120.5 L527.92 120.85 L527.62 121.19 L527.32 121.5 L527.02 121.79 L526.72 122.05 L526.42 122.27 L526.12 122.45 L525.82 122.58 L525.52 122.67 L525.22 122.7 L524.92 122.68 L524.62 122.61 L524.32 122.5 L524.02 122.33 L523.72 122.13 L523.42 121.88 L523.12 121.6 L522.82 121.29 L522.52 120.96 L522.22 120.61 L521.92 120.26 L521.62 119.9 L521.32 119.55 L521.02 119.21 L520.72 118.9 L520.42 118.61 L520.12 118.35 L519.82 118.13 L519.52 117.95 L519.22 117.82 L518.92 117.73 L518.62 117.7 L518.32 117.72 L518.02 117.79 L517.72 117.9 L517.42 118.07 L517.12 118.27 L516.82 118.52 L516.52 118.8 L516.22 119.11 L515.92 119.44 L515.62 119.79 L515.32 120.14 L515.02 120.5 L514.72 120.85 L514.42 121.19 L514.12 121.5 L513.82 121.79 L513.52 122.05 L513.22 122.27 L512.92 122.45 L512.62 122.58 L512.32 122.67 L512.02 122.7 L511.72 122.68 L511.42 122.61 L511.12 122.5 L510.82 122.33 L510.52 122.13 L510.22 121.88 L509.92 121.6 L509.62 121.29 L509.32 120.96 L509.02 120.61 L508.72 120.26 L508.42 119.9 L508.12 119.55 L507.82 119.21 L507.52 118.9 L507.22 118.61 L506.92 118.35 L506.62 118.13 L506.32 117.95 L506.02 117.82 L505.72 117.73 L505.42 117.7 L505.12 117.72 L504.82 117.79 L504.52 117.9 L504.22 118.07 L503.92 118.27 L503.62 118.52 L503.32 118.8 L503.02 119.11 L502.72 119.44 L502.42 119.79 L502.12 120.14 L501.82 120.5 L501.52 120.85 L501.22 121.19 L500.92 121.5 L500.62 121.79 L500.32 122.05 L500.02 122.27 L499.72 122.45 L499.42 122.58 L499.12 122.67 L498.82 122.7 L498.52 122.68 L498.22 122.61 L497.92 122.5 L497.62 122.33 L497.32 122.13 L497.02 121.88 L496.72 121.6 L496.42 121.29 L496.12 120.96 L495.82 120.61 L495.52 120.26 L495.22 119.9 L494.92 119.55 L494.62 119.21 L494.32 118.9 L494.02 118.61 L493.72 118.35 L493.42 118.13 L493.12 117.95 L492.82 117.82 L492.52 117.73 L492.22 117.7 L491.92 117.72 L491.62 117.79 L491.32 117.9 L491.02 118.07 L490.72 118.27 L490.42 118.52 L490.12 118.8 L489.82 119.11 L489.52 119.44 L489.22 119.79 L488.92 120.14 L488.62 120.5 L488.32 120.85 L488.02 121.19 L487.72 121.5 L487.42 121.79 L487.12 122.05 L486.82 122.27 L486.52 122.45 L486.22 122.58 L485.92 122.67 L485.62 122.7 L485.32 122.68 L485.02 122.61 L484.72 122.5 L484.42 122.33 L484.12 122.13 L483.82 121.88 L483.52 121.6 L483.22 121.29 L482.92 120.96 L482.62 120.61 L482.32 120.26 L482.02 119.9 L481.72 119.55 L481.42 119.21 L481.12 118.9 L480.82 118.61 L480.52 118.35 L480.22 118.13 L479.92 117.95 L479.62 117.82 L479.32 117.73 L479.02 117.7 L478.72 117.72 L478.42 117.79 L478.12 117.9 L477.82 118.07 L477.52 118.27 L477.22 118.52 L476.92 118.8 L476.62 119.11 L476.32 119.44 L476.02 119.79 L475.72 120.14 L475.42 120.5 L475.12 120.85 L474.82 121.19 L474.52 121.5 L474.22 121.79 L473.92 122.05 L473.62 122.27 L473.32 122.45 L473.02 122.58 L472.72 122.67 L472.42 122.7 L472.12 122.68 L471.82 122.61 L471.52 122.5 L471.22 122.33 L470.92 122.13 L470.62 121.88 L470.32 121.6 L470.02 121.29 L469.72 120.96 L469.42 120.61 L469.12 120.26 L468.82 119.9 L468.52 119.55 L468.22 119.21 L467.92 118.9 L467.62 118.61 L467.32 118.35 L467.02 118.13 L466.72 117.95 L466.42 117.82 L466.12 117.73 L465.82 117.7 L465.52 117.72 L465.22 117.79 L464.92 117.9 L464.62 118.07 L464.32 118.27 L464.02 118.52 L463.72 118.8 L463.42 119.11 L463.12 119.44 L462.82 119.79 L462.52 120.14 L462.22 120.5 L461.92 120.85 L461.62 121.19 L461.32 121.5 L461.02 121.79 L460.72 122.05 L460.42 122.27 L460.12 122.45 L459.82 122.58 L459.52 122.67 L459.22 122.7 L458.92 122.68 L458.62 122.61 L458.32 122.5 L458.02 122.33 L457.72 122.13 L457.42 121.88 L457.12 121.6 L456.82 121.29 L456.52 120.96 L456.22 120.61 L455.92 120.26 L455.62 119.9 L455.32 119.55 L455.02 119.21 L454.72 118.9 L454.42 118.61 L454.12 118.35 L453.82 118.13 L453.52 117.95 L453.22 117.82 L452.92 117.73 L452.62 117.7 L452.32 117.72 L452.02 117.79 L451.72 117.9 L451.42 118.07 L451.12 118.27 L450.82 118.52 L450.52 118.8 L450.22 119.11 L449.92 119.44 L449.62 119.79 L449.32 120.14 L449.02 120.5 L448.72 120.85 L448.42 121.19 L448.12 121.5 L447.82 121.79 L447.52 122.05 L447.22 122.27 L446.92 122.45 L446.62 122.58 L446.32 122.67 L446.02 122.7 L445.72 122.68 L445.42 122.61 L445.12 122.5 L444.82 122.33 L444.52 122.13 L444.22 121.88 L443.92 121.6 L443.62 121.29 L443.3 120.96 L442.99 120.6 L442.72 120.22 L442.47 119.83 L442.25 119.44 L442.07 119.06 L441.92 118.7 L441.79 118.36 L441.6 118.01 L441.49 117.73 L441.39 117.49 L441.29 117.3 L441.18 117.14 L441.06 117.03 L440.8 116.87 L440.62 116.82 L440.41 116.8 L440.17 116.8 L439.88 116.81 L439.49 116.76 L439.14 116.78 L438.76 116.79 L438.35 116.78 L437.91 116.75 L437.45 116.68 L436.99 116.58 L436.54 116.45 L436.1 116.27 L435.67 116.05 L435.28 115.78 L434.92 115.47 L434.64 115.23 L434.39 114.87 L434.19 114.47 L434.07 114.05 L434.01 113.63 L434.02 113.2 L434.1 112.9 L434.24 112.48 L434.45 112.09 L434.72 111.72 L435.04 111.38 L435.4 111.09 L435.78 110.89 L436.21 110.66 L436.66 110.48 L437.11 110.34 L437.56 110.23 L437.99 110.17 L438.44 110.09 L438.84 110.06 L439.21 110.05 L439.54 110.05 L439.83 110.05 L440.08 110.04 L440.39 109.93 L440.58 109.88 L440.74 109.8 L440.86 109.69 L440.97 109.53 L441.06 109.34 L441.24 109.05 L441.32 108.78 L441.41 108.48 L441.52 108.13 L441.64 107.76 L441.8 107.37 L442.01 106.96 L442.22 106.56 L442.46 106.16 L442.75 105.78 L443.08 105.42 L443.4 105.1 L443.7 104.81 L444 104.55 L444.3 104.33 L444.6 104.15 L444.9 104.02 L445.2 103.93 L445.5 103.9 L445.8 103.92 L446.1 103.99 L446.4 104.1 L446.7 104.27 L447 104.47 L447.3 104.72 L447.6 105 L447.9 105.31 L448.2 105.64 L448.5 105.99 L448.8 106.34 L449.1 106.7 L449.4 107.05 L449.7 107.39 L450 107.7 L450.3 107.99 L450.6 108.25 L450.9 108.47 L451.2 108.65 L451.5 108.78 L451.8 108.87 L452.1 108.9 L452.4 108.88 L452.7 108.81 L453 108.7 L453.3 108.53 L453.6 108.33 L453.9 108.08 L454.2 107.8 L454.5 107.49 L454.8 107.16 L455.1 106.81 L455.4 106.46 L455.7 106.1 L456 105.75 L456.3 105.41 L456.6 105.1 L456.9 104.81 L457.2 104.55 L457.5 104.33 L457.8 104.15 L458.1 104.02 L458.4 103.93 L458.7 103.9 L459 103.92 L459.3 103.99 L459.6 104.1 L459.9 104.27 L460.2 104.47 L460.5 104.72 L460.8 105 L461.1 105.31 L461.4 105.64 L461.7 105.99 L462 106.34 L462.3 106.7 L462.6 107.05 L462.9 107.39 L463.2 107.7 L463.5 107.99 L463.8 108.25 L464.1 108.47 L464.4 108.65 L464.7 108.78 L465 108.87 L465.3 108.9 L465.6 108.88 L465.9 108.81 L466.2 108.7 L466.5 108.53 L466.8 108.33 L467.1 108.08 L467.4 107.8 L467.7 107.49 L468 107.16 L468.3 106.81 L468.6 106.46 L468.9 106.1 L469.2 105.75 L469.5 105.41 L469.8 105.1 L470.1 104.81 L470.4 104.55 L470.7 104.33 L471 104.15 L471.3 104.02 L471.6 103.93 L471.9 103.9 L472.2 103.92 L472.5 103.99 L472.8 104.1 L473.1 104.27 L473.4 104.47 L473.7 104.72 L474 105 L474.3 105.31 L474.6 105.64 L474.9 105.99 L475.2 106.34 L475.5 106.7 L475.8 107.05 L476.1 107.39 L476.4 107.7 L476.7 107.99 L477 108.25 L477.3 108.47 L477.6 108.65 L477.9 108.78 L478.2 108.87 L478.5 108.9 L478.8 108.88 L479.1 108.81 L479.4 108.7 L479.7 108.53 L480 108.33 L480.3 108.08 L480.6 107.8 L480.9 107.49 L481.2 107.16 L481.5 106.81 L481.8 106.46 L482.1 106.1 L482.4 105.75 L482.7 105.41 L483 105.1 L483.3 104.81 L483.6 104.55 L483.9 104.33 L484.2 104.15 L484.5 104.02 L484.8 103.93 L485.1 103.9 L485.4 103.92 L485.7 103.99 L486 104.1 L486.3 104.27 L486.6 104.47 L486.9 104.72 L487.2 105 L487.5 105.31 L487.8 105.64 L488.1 105.99 L488.4 106.34 L488.7 106.7 L489 107.05 L489.3 107.39 L489.6 107.7 L489.9 107.99 L490.2 108.25 L490.5 108.47 L490.8 108.65 L491.1 108.78 L491.4 108.87 L491.7 108.9 L492 108.88 L492.3 108.81 L492.6 108.7 L492.9 108.53 L493.2 108.33 L493.5 108.08 L493.8 107.8 L494.1 107.49 L494.4 107.16 L494.7 106.81 L495 106.46 L495.3 106.1 L495.6 105.75 L495.9 105.41 L496.2 105.1 L496.5 104.81 L496.8 104.55 L497.1 104.33 L497.4 104.15 L497.7 104.02 L498 103.93 L498.3 103.9 L498.6 103.92 L498.9 103.99 L499.2 104.1 L499.5 104.27 L499.8 104.47 L500.1 104.72 L500.4 105 L500.7 105.31 L501 105.64 L501.3 105.99 L501.6 106.34 L501.9 106.7 L502.2 107.05 L502.5 107.39 L502.8 107.7 L503.1 107.99 L503.4 108.25 L503.7 108.47 L504 108.65 L504.3 108.78 L504.6 108.87 L504.9 108.9 L505.2 108.88 L505.5 108.81 L505.8 108.7 L506.1 108.53 L506.4 108.33 L506.7 108.08 L507 107.8 L507.3 107.49 L507.6 107.16 L507.9 106.81 L508.2 106.46 L508.5 106.1 L508.8 105.75 L509.1 105.41 L509.4 105.1 L509.7 104.81 L510 104.55 L510.3 104.33 L510.6 104.15 L510.9 104.02 L511.2 103.93 L511.5 103.9 L511.8 103.92 L512.1 103.99 L512.4 104.1 L512.7 104.27 L513 104.47 L513.3 104.72 L513.6 105 L513.9 105.31 L514.2 105.64 L514.5 105.99 L514.8 106.34 L515.1 106.7 L515.4 107.05 L515.7 107.39 L516 107.7 L516.3 107.99 L516.6 108.25 L516.9 108.47 L517.2 108.65 L517.5 108.78 L517.8 108.87 L518.1 108.9 L518.4 108.88 L518.7 108.81 L519 108.7 L519.3 108.53 L519.6 108.33 L519.9 108.08 L520.2 107.8 L520.5 107.49 L520.8 107.16 L521.1 106.81 L521.4 106.46 L521.7 106.1 L522 105.75 L522.3 105.41 L522.6 105.1 L522.9 104.81 L523.2 104.55 L523.5 104.33 L523.8 104.15 L524.1 104.02 L524.4 103.93 L524.7 103.9 L525 103.92 L525.3 103.99 L525.6 104.1 L525.9 104.27 L526.2 104.47 L526.5 104.72 L526.8 105 L527.1 105.31 L527.4 105.64 L527.7 105.99 L528 106.34 L528.3 106.7 L528.6 107.05 L528.9 107.39 L529.2 107.7 L529.5 107.99 L529.8 108.25 L530.1 108.47 L530.4 108.65 L530.7 108.78 L531 108.87 L531.3 108.9 L531.6 108.88 L531.9 108.81 L532.2 108.7 L532.5 108.53 L532.8 108.33 L533.1 108.08 L533.4 107.8 L533.7 107.49 L534 107.16 L534.3 106.81 L534.6 106.46 L534.9 106.1 L535.2 105.75 L535.5 105.41 L535.8 105.1 L536.1 104.81 L536.4 104.55 L536.7 104.33 L537 104.15 L537.3 104.02 L537.6 103.93 L537.9 103.9 L538.2 103.92 L538.5 103.99 L538.8 104.1 L539.1 104.27 L539.4 104.47 L539.7 104.72 L540 105 L540.3 105.31 L540.6 105.64 L540.9 105.99 L541.2 106.34 L541.5 106.7 L541.8 107.05 L542.1 107.39 L542.4 107.7 L542.7 107.99 L543 108.25 L543.3 108.47 L543.6 108.65 L543.9 108.78 L544.2 108.87 L544.5 108.9 L544.8 108.88 L545.1 108.81 L545.4 108.7 L545.7 108.53 L546 108.33 L546.3 108.08 L546.6 107.8 L546.9 107.49 L547.2 107.16 L547.5 106.81 L547.8 106.46 L548.1 106.1 L548.4 105.75 L548.7 105.41 L549 105.1 L549.3 104.81 L549.6 104.55 L549.9 104.33 L550.2 104.15 L550.5 104.02 L550.8 103.93 L551.1 103.9 L551.4 103.92 L551.7 103.99 L552 104.1 L552.3 104.27 L552.6 104.47 L552.9 104.72 L553.2 105 L553.5 105.31 L553.8 105.64 L554.1 105.99 L554.4 106.34 L554.7 106.7 L555 107.05 L555.3 107.39 L555.6 107.7 L555.9 107.99 L556.2 108.25 L556.5 108.47 L556.8 108.65 L557.1 108.78 L557.4 108.87 L557.7 108.9 L558 108.88 L558.3 108.81 L558.6 108.7 L558.9 108.53 L559.2 108.33 L559.5 108.08 L559.8 107.8 L560.1 107.49 L560.4 107.16 L560.7 106.81 L561 106.46 L561.3 106.1" stroke="#444444" stroke-width="1.0" fill="none"/><circle cx="444.7" cy="113.1" r="2.5" fill="#767676"/><circle cx="560.1" cy="112.5" r="2.5" fill="#767676"/><g fill="#9b9b9b"><circle cx="42.25" cy="378.1" r="6.85"/><polygon points="60.15,376.65 52.15,376.65 49.65,375.5 46.15,372.9 46.15,383.3 49.65,380.7 52.15,379.55 60.15,379.55"/><circle cx="44.24" cy="361.06" r="6.85"/><polygon points="61.99,363.77 54.21,361.93 52.04,360.23 49.24,356.9 46.84,367.02 50.84,365.29 53.54,364.75 61.33,366.6"/><circle cx="50.11" cy="344.93" r="6.85"/><polygon points="66.76,351.67 59.61,348.08 57.89,345.93 55.93,342.04 51.26,351.33 55.56,350.58 58.31,350.67 65.46,354.26"/><circle cx="59.54" cy="330.6" r="6.85"/><polygon points="74.18,340.99 68.06,335.85 66.88,333.36 65.87,329.12 59.18,337.09 63.54,337.35 66.19,338.07 72.32,343.21"/><circle cx="72.02" cy="318.82" r="6.85"/><polygon points="83.87,332.32 79.09,325.9 78.52,323.21 78.52,318.85 70.18,325.06 74.35,326.31 76.77,327.63 81.55,334.05"/><circle cx="86.88" cy="310.24" r="6.85"/><polygon points="95.3,326.11 92.13,318.76 92.2,316.01 93.2,311.77 83.65,315.88 87.42,318.07 89.47,319.91 92.64,327.25"/><circle cx="103.32" cy="305.32" r="6.85"/><polygon points="107.85,322.7 106.46,314.82 107.16,312.16 109.12,308.26 98.87,310.07 102.04,313.06 103.61,315.32 105,323.2"/><circle cx="120.45" cy="304.33" r="6.85"/><polygon points="120.85,322.28 121.32,314.29 122.61,311.86 125.41,308.52 115.03,307.92 117.42,311.56 118.42,314.12 117.96,322.11"/><circle cx="137.34" cy="307.3" r="6.85"/><polygon points="133.6,324.87 135.89,317.2 137.71,315.14 141.21,312.53 131.24,309.55 132.73,313.65 133.12,316.37 130.82,324.04"/><circle cx="153.1" cy="314.1" r="6.85"/><polygon points="145.41,330.33 149.41,323.4 151.65,321.81 155.65,320.08 146.65,314.88 147.15,319.21 146.89,321.95 142.89,328.88"/><circle cx="166.86" cy="324.35" r="6.85"/><polygon points="155.63,338.36 161.12,332.54 163.68,331.51 167.97,330.75 160.4,323.62 159.89,327.95 159.01,330.55 153.52,336.37"/><circle cx="177.89" cy="337.49" r="6.85"/><polygon points="163.73,348.54 170.42,344.14 173.14,343.73 177.49,343.98 171.78,335.29 170.28,339.39 168.82,341.72 162.14,346.12"/><circle cx="185.59" cy="352.82" r="6.85"/><polygon points="169.27,360.31 176.79,357.57 179.53,357.8 183.71,359.04 180.15,349.27 177.75,352.91 175.79,354.85 168.28,357.58"/><circle cx="189.55" cy="369.52" r="6.85"/><polygon points="171.94,373.04 179.89,372.11 182.5,372.96 186.28,375.14 185.07,364.81 181.9,367.8 179.55,369.23 171.6,370.16"/><circle cx="189.55" cy="386.68" r="6.85"/><polygon points="171.6,386.04 179.55,386.97 181.9,388.4 185.07,391.39 186.28,381.06 182.5,383.24 179.89,384.09 171.94,383.16"/><circle cx="185.59" cy="403.37" r="6.85"/><polygon points="168.28,398.62 175.79,401.35 177.75,403.29 180.15,406.93 183.71,397.15 179.53,398.4 176.79,398.63 169.27,395.89"/><circle cx="177.89" cy="418.71" r="6.85"/><polygon points="162.14,410.08 168.82,414.48 170.28,416.81 171.78,420.91 177.49,412.22 173.14,412.47 170.42,412.06 163.73,407.66"/><circle cx="166.86" cy="431.85" r="6.85"/><polygon points="153.53,419.83 159.02,425.65 159.89,428.25 160.41,432.58 167.97,425.45 163.68,424.69 161.12,423.66 155.63,417.84"/><circle cx="153.1" cy="442.1" r="6.85"/><polygon points="142.89,427.32 146.89,434.25 147.15,436.99 146.65,441.32 155.65,436.12 151.65,434.39 149.41,432.8 145.41,425.87"/><circle cx="137.35" cy="448.9" r="6.85"/><polygon points="130.82,432.16 133.12,439.83 132.73,442.55 131.25,446.65 141.21,443.67 137.71,441.06 135.9,439 133.6,431.33"/><circle cx="120.45" cy="451.87" r="6.85"/><polygon points="117.96,434.09 118.42,442.08 117.42,444.64 115.03,448.28 125.41,447.68 122.61,444.34 121.32,441.91 120.85,433.92"/><circle cx="103.32" cy="450.88" r="6.85"/><polygon points="105,433 103.61,440.88 102.04,443.14 98.87,446.13 109.12,447.94 107.16,444.04 106.47,441.38 107.85,433.5"/><circle cx="86.88" cy="445.96" r="6.85"/><polygon points="92.64,428.95 89.47,436.29 87.42,438.13 83.65,440.32 93.2,444.44 92.2,440.19 92.13,437.44 95.3,430.09"/><circle cx="72.02" cy="437.38" r="6.85"/><polygon points="81.55,422.15 76.77,428.57 74.35,429.89 70.18,431.14 78.52,437.35 78.53,432.99 79.1,430.3 83.87,423.89"/><circle cx="59.54" cy="425.6" r="6.85"/><polygon points="72.32,412.99 66.19,418.13 63.54,418.85 59.18,419.11 65.87,427.08 66.88,422.84 68.06,420.35 74.18,415.21"/><circle cx="50.11" cy="411.27" r="6.85"/><polygon points="65.46,401.94 58.31,405.53 55.56,405.62 51.26,404.87 55.93,414.16 57.89,410.27 59.61,408.12 66.76,404.53"/><circle cx="44.24" cy="395.14" r="6.85"/><polygon points="61.33,389.6 53.54,391.45 50.84,390.91 46.84,389.18 49.24,399.3 52.04,395.97 54.21,394.27 61.99,392.43"/></g><circle cx="116.15" cy="378.1" r="54.25" fill="#e9e9e9" stroke="#9b9b9b" stroke-width="7.5"/><polygon points="116.5,332.8 92,366 141,366" fill="#d0d0d0" stroke="#d0d0d0" stroke-width="0.6" stroke-linejoin="round"/><polygon points="116.5,332.8 78.3,355.8 92,366" fill="#d6d6d6" stroke="#d6d6d6" stroke-width="0.6" stroke-linejoin="round"/><polygon points="116.5,332.8 155,355.8 141,366" fill="#c8c8c8" stroke="#c8c8c8" stroke-width="0.6" stroke-linejoin="round"/><polygon points="78.3,355.8 78.3,403.2 92,366" fill="#cfcfcf" stroke="#cfcfcf" stroke-width="0.6" stroke-linejoin="round"/><polygon points="155,355.8 155,403.2 141,366" fill="#c0c0c0" stroke="#c0c0c0" stroke-width="0.6" stroke-linejoin="round"/><polygon points="78.3,403.2 92,366 116.5,409" fill="#c8c8c8" stroke="#c8c8c8" stroke-width="0.6" stroke-linejoin="round"/><polygon points="155,403.2 141,366 116.5,409" fill="#bdbdbd" stroke="#bdbdbd" stroke-width="0.6" stroke-linejoin="round"/><polygon points="78.3,403.2 116.5,424 116.5,409" fill="#c2c2c2" stroke="#c2c2c2" stroke-width="0.6" stroke-linejoin="round"/><polygon points="116.5,424 155,403.2 116.5,409" fill="#acacac" stroke="#acacac" stroke-width="0.6" stroke-linejoin="round"/><polygon points="92,366 141,366 116.5,409" fill="#cbcbcb" stroke="#cbcbcb" stroke-width="0.6" stroke-linejoin="round"/><path d="M113.1 357.8 L113.24 357.3 L113.3 356.79 L113.32 356.28 L113.32 355.76 L113.32 355.26 L113.35 354.78 L113.44 354.32 L113.6 353.9 L113.84 353.5 L114.13 353.12 L114.47 352.75 L114.84 352.41 L115.23 352.09 L115.65 351.82 L116.07 351.58 L116.5 351.4 L116.95 351.26 L117.43 351.17 L117.93 351.11 L118.44 351.09 L118.96 351.11 L119.46 351.17 L119.95 351.26 L120.4 351.4 L120.84 351.58 L121.27 351.79 L121.7 352.05 L122.11 352.34 L122.5 352.68 L122.85 353.05 L123.15 353.46 L123.4 353.9 L123.58 354.4 L123.68 354.98 L123.73 355.61 L123.75 356.26 L123.76 356.93 L123.77 357.59 L123.81 358.22 L123.9 358.8 L124.02 359.35 L124.15 359.89 L124.29 360.42 L124.44 360.94 L124.62 361.43 L124.82 361.89 L125.04 362.32 L125.3 362.7 L125.59 363.04 L125.89 363.32 L126.22 363.58 L126.58 363.8 L126.97 364 L127.38 364.2 L127.82 364.4 L128.3 364.6 L128.84 364.79 L129.44 364.96 L130.09 365.11 L130.76 365.26 L131.43 365.42 L132.07 365.6 L132.67 365.82 L133.2 366.1 L133.68 366.43 L134.15 366.8 L134.58 367.21 L134.99 367.65 L135.35 368.1 L135.66 368.57 L135.91 369.04 L136.1 369.5 L136.22 369.97 L136.27 370.47 L136.27 370.99 L136.21 371.51 L136.11 372.02 L135.97 372.51 L135.8 372.98 L135.6 373.4 L135.36 373.79 L135.08 374.15 L134.75 374.48 L134.39 374.8 L134 375.1 L133.59 375.38 L133.15 375.64 L132.7 375.9 L132.21 376.13 L131.65 376.31 L131.05 376.47 L130.44 376.62 L129.84 376.78 L129.27 376.95 L128.75 377.15 L128.3 377.4 L127.93 377.69 L127.61 378 L127.33 378.34 L127.09 378.7 L126.87 379.08 L126.67 379.47 L126.49 379.88 L126.3 380.3 L126.13 380.75 L125.98 381.23 L125.85 381.73 L125.73 382.25 L125.62 382.77 L125.52 383.27 L125.41 383.75 L125.3 384.2 L125.19 384.61 L125.09 385 L125 385.38 L124.91 385.74 L124.81 386.09 L124.7 386.43 L124.56 386.76 L124.4 387.1 L124.21 387.44 L124 387.79 L123.77 388.13 L123.53 388.47 L123.26 388.79 L122.99 389.09 L122.7 389.36 L122.4 389.6 L122.08 389.81 L121.74 390 L121.38 390.17 L121.01 390.32 L120.63 390.44 L120.25 390.53 L119.87 390.58 L119.5 390.6 L119.13 390.58 L118.75 390.53 L118.38 390.44 L118 390.32 L117.62 390.17 L117.25 390 L116.87 389.81 L116.5 389.6 L116.13 389.37 L115.75 389.11 L115.37 388.83 L114.99 388.53 L114.62 388.21 L114.26 387.86 L113.92 387.49 L113.6 387.1 L113.3 386.69 L113.02 386.25 L112.76 385.78 L112.51 385.3 L112.27 384.8 L112.04 384.28 L111.82 383.74 L111.6 383.2 L111.4 382.62 L111.23 382 L111.08 381.35 L110.93 380.69 L110.78 380.03 L110.61 379.41 L110.42 378.82 L110.2 378.3 L109.95 377.83 L109.69 377.39 L109.4 376.98 L109.11 376.61 L108.79 376.26 L108.45 375.94 L108.09 375.66 L107.7 375.4 L107.29 375.19 L106.85 375.03 L106.38 374.9 L105.9 374.81 L105.4 374.72 L104.88 374.63 L104.34 374.53 L103.8 374.4 L103.21 374.26 L102.58 374.14 L101.9 374.02 L101.22 373.89 L100.56 373.73 L99.94 373.54 L99.38 373.3 L98.9 373 L98.5 372.62 L98.14 372.18 L97.82 371.69 L97.56 371.16 L97.34 370.61 L97.17 370.05 L97.06 369.51 L97 369 L97 368.49 L97.07 367.96 L97.2 367.42 L97.37 366.89 L97.58 366.38 L97.83 365.9 L98.11 365.47 L98.4 365.1 L98.72 364.8 L99.07 364.56 L99.46 364.37 L99.88 364.22 L100.33 364.09 L100.8 363.96 L101.29 363.84 L101.8 363.7 L102.35 363.56 L102.94 363.42 L103.57 363.3 L104.21 363.18 L104.86 363.06 L105.5 362.94 L106.12 362.82 L106.7 362.7 L107.25 362.59 L107.8 362.52 L108.34 362.45 L108.86 362.38 L109.36 362.29 L109.83 362.15 L110.28 361.96 L110.7 361.7 L111.09 361.35 L111.46 360.93 L111.8 360.45 L112.12 359.93 L112.41 359.39 L112.67 358.84 L112.9 358.31 L113.1 357.8" fill="#d8d8d8"/><path d="M110.7 361.7 L111.21 361.7 L111.74 361.72 L112.28 361.76 L112.81 361.83 L113.33 361.95 L113.8 362.13 L114.23 362.37 L114.6 362.7 L114.9 363.13 L115.15 363.67 L115.36 364.3 L115.53 364.97 L115.67 365.66 L115.79 366.35 L115.9 367.01 L116 367.6 L116.07 368.13 L116.11 368.62 L116.11 369.09 L116.11 369.55 L116.1 370.01 L116.1 370.48 L116.13 370.97 L116.2 371.5 L116.31 372.06 L116.44 372.65 L116.6 373.26 L116.77 373.89 L116.95 374.52 L117.14 375.15 L117.32 375.78 L117.5 376.4 L117.69 377.02 L117.9 377.64 L118.12 378.27 L118.34 378.89 L118.55 379.51 L118.74 380.12 L118.89 380.72 L119 381.3 L119.05 381.85 L119.05 382.38 L119.01 382.89 L118.95 383.39 L118.88 383.89 L118.83 384.4 L118.79 384.94 L118.8 385.5 L118.87 386.14 L119 386.85 L119.16 387.61 L119.32 388.38 L119.47 389.09 L119.56 389.73 L119.58 390.25 L119.5 390.6 L119.3 390.78 L119.01 390.81 L118.64 390.74 L118.22 390.58 L117.78 390.35 L117.33 390.1 L116.9 389.84 L116.5 389.6 L116.13 389.37 L115.75 389.11 L115.37 388.83 L114.99 388.53 L114.62 388.21 L114.26 387.86 L113.92 387.49 L113.6 387.1 L113.3 386.69 L113.02 386.25 L112.76 385.78 L112.51 385.3 L112.27 384.8 L112.04 384.28 L111.82 383.74 L111.6 383.2 L111.4 382.62 L111.23 382 L111.08 381.35 L110.93 380.69 L110.78 380.03 L110.61 379.41 L110.42 378.82 L110.2 378.3 L109.95 377.83 L109.69 377.39 L109.4 376.98 L109.11 376.61 L108.79 376.26 L108.45 375.94 L108.09 375.66 L107.7 375.4 L107.29 375.19 L106.85 375.03 L106.38 374.9 L105.9 374.81 L105.4 374.72 L104.88 374.63 L104.34 374.53 L103.8 374.4 L103.21 374.26 L102.58 374.14 L101.9 374.02 L101.22 373.89 L100.56 373.73 L99.94 373.54 L99.38 373.3 L98.9 373 L98.5 372.62 L98.14 372.18 L97.82 371.69 L97.56 371.16 L97.34 370.61 L97.17 370.05 L97.06 369.51 L97 369 L97 368.49 L97.07 367.96 L97.2 367.42 L97.37 366.89 L97.58 366.38 L97.83 365.9 L98.11 365.47 L98.4 365.1 L98.72 364.8 L99.07 364.56 L99.46 364.37 L99.88 364.22 L100.33 364.09 L100.8 363.96 L101.29 363.84 L101.8 363.7 L102.35 363.56 L102.94 363.42 L103.57 363.3 L104.21 363.18 L104.86 363.06 L105.5 362.94 L106.12 362.82 L106.7 362.7 L107.24 362.56 L107.77 362.4 L108.27 362.24 L108.76 362.07 L109.25 361.93 L109.73 361.81 L110.21 361.73 L110.7 361.7" fill="#c5c5c5"/><path d="M118.9 337 L119.44 336.83 L119.96 336.77 L120.47 336.83 L120.96 336.96 L121.44 337.16 L121.91 337.39 L122.36 337.65 L122.8 337.9 L123.23 338.17 L123.65 338.48 L124.06 338.83 L124.46 339.21 L124.83 339.62 L125.18 340.04 L125.51 340.47 L125.8 340.9 L126.05 341.34 L126.25 341.81 L126.42 342.3 L126.56 342.79 L126.7 343.3 L126.85 343.8 L127.01 344.31 L127.2 344.8 L127.41 345.3 L127.62 345.82 L127.84 346.35 L128.08 346.87 L128.32 347.38 L128.59 347.86 L128.88 348.3 L129.2 348.7 L129.55 349.06 L129.92 349.39 L130.31 349.7 L130.72 349.97 L131.15 350.22 L131.61 350.42 L132.09 350.58 L132.6 350.7 L133.14 350.76 L133.72 350.75 L134.33 350.7 L134.96 350.61 L135.6 350.5 L136.24 350.38 L136.88 350.28 L137.5 350.2 L138.13 350.12 L138.78 350.01 L139.45 349.89 L140.11 349.77 L140.75 349.68 L141.35 349.62 L141.91 349.62 L142.4 349.7 L142.83 349.85 L143.21 350.06 L143.54 350.32 L143.84 350.62 L144.11 350.96 L144.36 351.33 L144.58 351.71 L144.8 352.1 L145.01 352.52 L145.2 352.98 L145.38 353.47 L145.54 353.98 L145.66 354.5 L145.75 355.02 L145.8 355.52 L145.8 356 L145.74 356.45 L145.63 356.89 L145.48 357.32 L145.29 357.75 L145.07 358.18 L144.85 358.61 L144.62 359.05 L144.4 359.5 L144.16 359.97 L143.87 360.45 L143.56 360.93 L143.25 361.43 L142.96 361.92 L142.7 362.42 L142.51 362.91 L142.4 363.4 L142.37 363.89 L142.39 364.39 L142.47 364.88 L142.59 365.38 L142.75 365.87 L142.95 366.36 L143.16 366.84 L143.4 367.3 L143.67 367.75 L144 368.19 L144.37 368.61 L144.76 369.03 L145.16 369.45 L145.56 369.86 L145.94 370.28 L146.3 370.7 L146.64 371.12 L146.98 371.52 L147.32 371.91 L147.64 372.31 L147.96 372.72 L148.26 373.15 L148.54 373.61 L148.8 374.1 L149.06 374.63 L149.33 375.2 L149.59 375.79 L149.84 376.41 L150.04 377.03 L150.18 377.66 L150.24 378.29 L150.2 378.9 L150.06 379.53 L149.82 380.19 L149.52 380.86 L149.14 381.52 L148.72 382.17 L148.27 382.78 L147.79 383.33 L147.3 383.8 L146.78 384.18 L146.19 384.48 L145.57 384.72 L144.91 384.93 L144.25 385.11 L143.6 385.3 L142.98 385.53 L142.4 385.8 L141.84 386.11 L141.28 386.41 L140.71 386.73 L140.17 387.07 L139.67 387.43 L139.21 387.81 L138.82 388.24 L138.5 388.7 L138.27 389.21 L138.14 389.76 L138.06 390.35 L138.04 390.96 L138.04 391.6 L138.05 392.26 L138.04 392.93 L138 393.6 L137.95 394.31 L137.91 395.06 L137.88 395.85 L137.84 396.64 L137.8 397.43 L137.73 398.18 L137.63 398.88 L137.5 399.5 L137.33 400.06 L137.15 400.58 L136.94 401.06 L136.71 401.51 L136.46 401.91 L136.17 402.28 L135.85 402.61 L135.5 402.9 L135.11 403.16 L134.68 403.38 L134.22 403.56 L133.73 403.71 L133.22 403.81 L132.69 403.88 L132.15 403.91 L131.6 403.9 L131.03 403.83 L130.42 403.7 L129.79 403.52 L129.15 403.31 L128.51 403.07 L127.88 402.83 L127.27 402.6 L126.7 402.4 L126.16 402.19 L125.63 401.95 L125.12 401.71 L124.62 401.46 L124.15 401.24 L123.68 401.06 L123.23 400.94 L122.8 400.9 L122.39 400.93 L122 401.01 L121.62 401.14 L121.26 401.31 L120.91 401.53 L120.57 401.79 L120.24 402.08 L119.9 402.4 L119.57 402.77 L119.24 403.21 L118.93 403.7 L118.62 404.21 L118.31 404.75 L118.01 405.28 L117.7 405.81 L117.4 406.3 L117.1 406.79 L116.82 407.29 L116.54 407.79 L116.26 408.29 L115.98 408.77 L115.68 409.22 L115.35 409.63 L115 410 L114.62 410.32 L114.22 410.62 L113.8 410.88 L113.36 411.11 L112.91 411.31 L112.45 411.48 L111.98 411.61 L111.5 411.7 L111 411.76 L110.47 411.79 L109.92 411.78 L109.36 411.74 L108.81 411.66 L108.27 411.55 L107.77 411.39 L107.3 411.2 L106.87 410.96 L106.46 410.67 L106.08 410.33 L105.71 409.96 L105.36 409.57 L105.03 409.15 L104.71 408.73 L104.4 408.3 L104.12 407.85 L103.87 407.35 L103.65 406.83 L103.43 406.29 L103.21 405.77 L102.98 405.26 L102.71 404.8 L102.4 404.4 L102.05 404.04 L101.67 403.7 L101.27 403.38 L100.85 403.09 L100.41 402.85 L99.95 402.64 L99.48 402.49 L99 402.4 L98.5 402.38 L97.98 402.44 L97.45 402.56 L96.89 402.71 L96.33 402.89 L95.76 403.08 L95.18 403.25 L94.6 403.4 L94.01 403.54 L93.41 403.7 L92.8 403.86 L92.18 404.02 L91.56 404.17 L90.94 404.29 L90.32 404.37 L89.7 404.4 L89.06 404.39 L88.4 404.36 L87.71 404.3 L87.04 404.21 L86.39 404.08 L85.79 403.9 L85.25 403.68 L84.8 403.4 L84.43 403.06 L84.12 402.65 L83.86 402.19 L83.65 401.69 L83.49 401.16 L83.38 400.61 L83.32 400.06 L83.3 399.5 L83.36 398.94 L83.51 398.35 L83.73 397.74 L83.99 397.11 L84.25 396.48 L84.5 395.85 L84.69 395.22 L84.8 394.6 L84.85 393.98 L84.86 393.35 L84.85 392.72 L84.8 392.09 L84.72 391.46 L84.61 390.85 L84.47 390.26 L84.3 389.7 L84.08 389.17 L83.81 388.66 L83.5 388.17 L83.16 387.69 L82.8 387.23 L82.45 386.76 L82.11 386.29 L81.8 385.8 L81.49 385.3 L81.17 384.8 L80.85 384.3 L80.53 383.79 L80.24 383.29 L79.97 382.79 L79.76 382.29 L79.6 381.8 L79.5 381.31 L79.44 380.81 L79.42 380.3 L79.44 379.81 L79.49 379.32 L79.57 378.85 L79.67 378.41 L79.8 378 L79.97 377.63 L80.2 377.3 L80.46 377 L80.75 376.72 L81.04 376.44 L81.33 376.15 L81.59 375.84 L81.8 375.5 L81.98 375.12 L82.14 374.72 L82.29 374.31 L82.42 373.88 L82.54 373.45 L82.64 373.02 L82.73 372.6 L82.8 372.2 L82.83 371.81 L82.82 371.44 L82.79 371.07 L82.74 370.71 L82.7 370.34 L82.68 369.97 L82.71 369.59 L82.8 369.2 L82.94 368.79 L83.11 368.35 L83.32 367.91 L83.56 367.46 L83.82 367.02 L84.12 366.59 L84.45 366.18 L84.8 365.8 L85.2 365.45 L85.64 365.12 L86.12 364.81 L86.63 364.51 L87.15 364.23 L87.68 363.95 L88.2 363.67 L88.7 363.4 L89.2 363.14 L89.72 362.89 L90.25 362.66 L90.77 362.43 L91.28 362.2 L91.76 361.95 L92.2 361.69 L92.6 361.4 L92.96 361.09 L93.32 360.79 L93.64 360.47 L93.94 360.13 L94.19 359.77 L94.39 359.39 L94.53 358.96 L94.6 358.5 L94.57 357.98 L94.45 357.42 L94.25 356.81 L94.01 356.18 L93.74 355.53 L93.49 354.87 L93.26 354.23 L93.1 353.6 L92.98 352.98 L92.86 352.34 L92.75 351.7 L92.66 351.06 L92.6 350.43 L92.56 349.82 L92.56 349.24 L92.6 348.7 L92.68 348.19 L92.79 347.69 L92.93 347.21 L93.11 346.76 L93.31 346.33 L93.54 345.95 L93.81 345.6 L94.1 345.3 L94.42 345.05 L94.78 344.83 L95.17 344.66 L95.59 344.53 L96.03 344.42 L96.5 344.35 L96.99 344.31 L97.5 344.3 L98.04 344.32 L98.62 344.39 L99.23 344.49 L99.86 344.62 L100.5 344.77 L101.14 344.94 L101.78 345.12 L102.4 345.3 L103.02 345.52 L103.65 345.79 L104.28 346.09 L104.91 346.4 L105.54 346.69 L106.15 346.94 L106.74 347.11 L107.3 347.2 L107.84 347.2 L108.37 347.14 L108.88 347.03 L109.38 346.87 L109.85 346.66 L110.32 346.41 L110.77 346.12 L111.2 345.8 L111.6 345.43 L111.95 345 L112.28 344.53 L112.59 344.01 L112.92 343.47 L113.26 342.92 L113.65 342.36 L114.1 341.8 L114.62 341.2 L115.19 340.52 L115.8 339.81 L116.44 339.09 L117.08 338.42 L117.72 337.82 L118.33 337.33 L118.9 337" fill="none" stroke="#737373" stroke-width="0.85" stroke-linejoin="round" stroke-linecap="round"/><path d="M120.4 336.52L120.62 334.43M123.23 337.82L124.34 336.04M125.48 339.94L127.16 338.67M126.85 342.7L128.86 342.11M127.82 345.5L129.76 344.7M129.13 348.13L130.88 346.98M131.3 349.95L132.31 348.12M134.03 350.42L133.84 348.33M136.99 349.96L136.72 347.88M139.93 349.49L139.57 347.43M143.08 349.64L144.09 347.81M145.1 352.03L146.98 351.09M146.04 354.95L148.11 354.59M145.48 358.03L147.36 358.97M144.06 360.71L145.83 361.84M142.74 363.27L144.79 363.73M143.13 366.02L145.09 365.25M144.64 368.46L146.17 367.03M146.68 370.69L148.3 369.36M148.56 373.07L150.35 371.97M149.92 375.8L151.87 375.02M150.5 378.84L152.6 378.97M149.35 381.75L151.11 382.9M147.37 384.12L148.61 385.82M144.54 385.34L145.11 387.36M141.83 386.45L142.84 388.3M139.41 388.04L140.95 389.47M138.36 390.53L140.45 390.62M138.3 393.54L140.4 393.66M138.15 396.53L140.25 396.62M137.8 399.55L139.85 399.99M136.48 402.37L138.13 403.66M133.78 404L134.21 406.06M130.68 404.06L130.24 406.12M127.79 403.12L127.05 405.08M124.99 401.98L124.07 403.86M122.34 401.24L122.76 403.3M120.01 402.72L121.58 404.12M118.41 405.18L120.24 406.21M116.9 407.76L118.74 408.77M115.12 410.29L116.48 411.89M112.41 411.8L112.96 413.82M109.31 412.03L109.02 414.11M106.39 410.99L105.17 412.69M104.32 408.7L102.62 409.94M102.97 405.96L101.03 406.76M101.24 403.74L99.94 405.39M98.69 402.69L98.61 404.79M95.89 403.35L96.54 405.35M92.97 404.13L93.52 406.15M89.97 404.69L90.07 406.79M86.91 404.49L86.49 406.54M84.09 403.11L82.43 404.39M83.03 400.17L80.95 400.41M83.66 397.13L81.72 396.33M84.52 394.37L82.42 394.21M84.41 391.45L82.35 391.82M83.5 388.74L81.74 389.87M81.76 386.3L80 387.43M80.16 383.75L78.35 384.81M79.14 380.81L77.04 380.88M79.6 377.72L77.69 376.84M81.51 375.39L79.73 374.28M82.41 372.65L80.36 372.23M82.4 369.71L80.31 369.55M83.6 366.82L81.87 365.62M85.81 364.66L84.67 362.89M88.45 363.19L87.44 361.35M91.18 361.91L90.23 360.04M93.48 360.2L91.9 358.81M94.21 357.72L92.16 358.17M93.19 354.94L91.21 355.62M92.49 351.97L90.42 352.32M92.28 348.92L90.19 348.76M93.2 345.94L91.4 344.85M95.79 344.17L95.32 342.12M98.89 344.13L99.23 342.06M101.84 344.82L102.41 342.8M104.67 345.95L105.6 344.06M107.35 346.9L107.36 344.8M110.08 346.2L109.08 344.35M112.1 344.25L110.31 343.15M113.78 341.72L112.14 340.41M115.73 339.43L114.17 338.03M117.9 337.29L116.6 335.64" stroke="#4c4c4c" stroke-width="0.9" fill="none"/><path d="M113.1 357.8 L113.24 357.3 L113.3 356.79 L113.32 356.28 L113.32 355.76 L113.32 355.26 L113.35 354.78 L113.44 354.32 L113.6 353.9 L113.84 353.5 L114.13 353.12 L114.47 352.75 L114.84 352.41 L115.23 352.09 L115.65 351.82 L116.07 351.58 L116.5 351.4 L116.95 351.26 L117.43 351.17 L117.93 351.11 L118.44 351.09 L118.96 351.11 L119.46 351.17 L119.95 351.26 L120.4 351.4 L120.84 351.58 L121.27 351.79 L121.7 352.05 L122.11 352.34 L122.5 352.68 L122.85 353.05 L123.15 353.46 L123.4 353.9 L123.58 354.4 L123.68 354.98 L123.73 355.61 L123.75 356.26 L123.76 356.93 L123.77 357.59 L123.81 358.22 L123.9 358.8 L124.02 359.35 L124.15 359.89 L124.29 360.42 L124.44 360.94 L124.62 361.43 L124.82 361.89 L125.04 362.32 L125.3 362.7 L125.59 363.04 L125.89 363.32 L126.22 363.58 L126.58 363.8 L126.97 364 L127.38 364.2 L127.82 364.4 L128.3 364.6 L128.84 364.79 L129.44 364.96 L130.09 365.11 L130.76 365.26 L131.43 365.42 L132.07 365.6 L132.67 365.82 L133.2 366.1 L133.68 366.43 L134.15 366.8 L134.58 367.21 L134.99 367.65 L135.35 368.1 L135.66 368.57 L135.91 369.04 L136.1 369.5 L136.22 369.97 L136.27 370.47 L136.27 370.99 L136.21 371.51 L136.11 372.02 L135.97 372.51 L135.8 372.98 L135.6 373.4 L135.36 373.79 L135.08 374.15 L134.75 374.48 L134.39 374.8 L134 375.1 L133.59 375.38 L133.15 375.64 L132.7 375.9 L132.21 376.13 L131.65 376.31 L131.05 376.47 L130.44 376.62 L129.84 376.78 L129.27 376.95 L128.75 377.15 L128.3 377.4 L127.93 377.69 L127.61 378 L127.33 378.34 L127.09 378.7 L126.87 379.08 L126.67 379.47 L126.49 379.88 L126.3 380.3 L126.13 380.75 L125.98 381.23 L125.85 381.73 L125.73 382.25 L125.62 382.77 L125.52 383.27 L125.41 383.75 L125.3 384.2 L125.19 384.61 L125.09 385 L125 385.38 L124.91 385.74 L124.81 386.09 L124.7 386.43 L124.56 386.76 L124.4 387.1 L124.21 387.44 L124 387.79 L123.77 388.13 L123.53 388.47 L123.26 388.79 L122.99 389.09 L122.7 389.36 L122.4 389.6 L122.08 389.81 L121.74 390 L121.38 390.17 L121.01 390.32 L120.63 390.44 L120.25 390.53 L119.87 390.58 L119.5 390.6 L119.13 390.58 L118.75 390.53 L118.38 390.44 L118 390.32 L117.62 390.17 L117.25 390 L116.87 389.81 L116.5 389.6 L116.13 389.37 L115.75 389.11 L115.37 388.83 L114.99 388.53 L114.62 388.21 L114.26 387.86 L113.92 387.49 L113.6 387.1 L113.3 386.69 L113.02 386.25 L112.76 385.78 L112.51 385.3 L112.27 384.8 L112.04 384.28 L111.82 383.74 L111.6 383.2 L111.4 382.62 L111.23 382 L111.08 381.35 L110.93 380.69 L110.78 380.03 L110.61 379.41 L110.42 378.82 L110.2 378.3 L109.95 377.83 L109.69 377.39 L109.4 376.98 L109.11 376.61 L108.79 376.26 L108.45 375.94 L108.09 375.66 L107.7 375.4 L107.29 375.19 L106.85 375.03 L106.38 374.9 L105.9 374.81 L105.4 374.72 L104.88 374.63 L104.34 374.53 L103.8 374.4 L103.21 374.26 L102.58 374.14 L101.9 374.02 L101.22 373.89 L100.56 373.73 L99.94 373.54 L99.38 373.3 L98.9 373 L98.5 372.62 L98.14 372.18 L97.82 371.69 L97.56 371.16 L97.34 370.61 L97.17 370.05 L97.06 369.51 L97 369 L97 368.49 L97.07 367.96 L97.2 367.42 L97.37 366.89 L97.58 366.38 L97.83 365.9 L98.11 365.47 L98.4 365.1 L98.72 364.8 L99.07 364.56 L99.46 364.37 L99.88 364.22 L100.33 364.09 L100.8 363.96 L101.29 363.84 L101.8 363.7 L102.35 363.56 L102.94 363.42 L103.57 363.3 L104.21 363.18 L104.86 363.06 L105.5 362.94 L106.12 362.82 L106.7 362.7 L107.25 362.59 L107.8 362.52 L108.34 362.45 L108.86 362.38 L109.36 362.29 L109.83 362.15 L110.28 361.96 L110.7 361.7 L111.09 361.35 L111.46 360.93 L111.8 360.45 L112.12 359.93 L112.41 359.39 L112.67 358.84 L112.9 358.31 L113.1 357.8" fill="none" stroke="#737373" stroke-width="0.85" stroke-linejoin="round" stroke-linecap="round"/><path d="M113.02 356.31L110.92 356.24M113.65 353.26L111.97 352M116.05 351.27L115.22 349.34M119.13 350.83L119.38 348.74M122.05 351.93L123.27 350.22M123.89 354.48L125.96 354.11M124.07 357.52L126.17 357.47M124.59 360.38L126.6 359.78M125.87 362.89L127.3 361.36M128.37 364.3L129.2 362.37M131.22 365.06L131.7 363.01M134.04 366.34L135.36 364.7M136.06 368.68L137.91 367.68M136.46 371.79L138.52 372.19M135.07 374.59L136.58 376.04M132.5 376.32L133.38 378.23M129.59 377.17L130.19 379.18M127.39 378.78L129.13 379.96M126.24 381.43L128.27 381.95M125.57 384.35L127.6 384.89M124.64 387.28L126.48 388.3M122.74 389.72L124.04 391.36M119.82 390.88L119.93 392.98M116.8 390.11L115.84 391.98M114.3 388.32L112.84 389.82M112.45 385.85L110.59 386.82M111.24 383.06L109.25 383.74M110.49 380.13L108.45 380.6M109.38 377.48L107.65 378.67M107.33 375.55L106.37 377.41M104.51 374.87L104.11 376.93M101.57 374.26L101.17 376.32M98.63 373.16L97.2 374.7M97 370.51L94.99 371.12M96.89 367.41L94.84 366.93M98.42 364.67L96.99 363.13M101.32 363.52L100.77 361.49M104.27 362.86L103.89 360.79M107.23 362.3L106.93 360.22M110.08 361.72L109.26 359.79M111.92 359.67L110.07 358.68" stroke="#4c4c4c" stroke-width="0.9" fill="none"/><path d="M114.6 362.7 L114.78 363.32 L114.98 363.95 L115.18 364.58 L115.37 365.21 L115.56 365.84 L115.73 366.45 L115.88 367.04 L116 367.6 L116.07 368.13 L116.11 368.62 L116.11 369.09 L116.11 369.55 L116.1 370.01 L116.1 370.48 L116.13 370.97 L116.2 371.5 L116.31 372.06 L116.44 372.65 L116.6 373.26 L116.77 373.89 L116.95 374.52 L117.14 375.15 L117.32 375.78 L117.5 376.4 L117.69 377.02 L117.9 377.64 L118.12 378.27 L118.34 378.89 L118.55 379.51 L118.74 380.12 L118.89 380.72 L119 381.3 L119.06 381.86 L119.07 382.4 L119.05 382.93 L119.01 383.44 L118.95 383.96 L118.89 384.47 L118.84 384.98 L118.8 385.5" fill="none" stroke="#737373" stroke-width="0.85" stroke-linejoin="round" stroke-linecap="round"/><path d="M114.71 364.08L113.08 364.59M115.48 366.65L113.83 367.06M115.81 369.24L114.11 369.21M115.99 371.99L114.32 372.31M116.67 374.63L115.04 375.11M117.44 377.23L115.83 377.77M118.32 379.77L116.69 380.27M118.77 382.34L117.07 382.38M118.53 385L116.84 384.88" stroke="#505050" stroke-width="0.8" fill="none"/><circle cx="341.2" cy="376.8" r="47" fill="#e4e4e4" stroke="#7e7e7e" stroke-width="3"/><path d="M389.06 380.4L395.05 380.85M388.32 385.93L394.41 387.11M386.94 391.34L392.85 393.22M384.95 396.55L390.42 399.02M382.36 401.5L387.67 404.69M379.21 406.11L384.12 409.89M375.55 410.32L379.85 414.51M371.43 414.09L375.33 418.9M366.9 417.34L370.22 422.58M362.02 420.05L364.62 425.46M356.85 422.18L358.88 428.04M351.48 423.69L352.81 429.74M345.97 424.56L346.56 430.53M340.39 424.79L340.29 430.99M334.82 424.37L334 430.52M329.34 423.31L327.86 429.13M324.02 421.62L321.81 427.41M318.94 419.32L316.06 424.82M314.15 416.45L310.77 421.41M309.73 413.04L305.67 417.73M305.74 409.15L301.15 413.32M302.22 404.81L297.35 408.31M299.23 400.1L293.81 403.1M296.81 395.07L291.08 397.42M294.99 389.79L289.21 391.41M293.8 384.34L287.67 385.31M293.24 378.78L287.05 379.04M293.34 373.2L287.35 372.75M294.08 367.67L287.99 366.49M295.46 362.26L289.55 360.38M297.45 357.05L291.98 354.58M300.04 352.1L294.73 348.91M303.19 347.49L298.28 343.71M306.85 343.28L302.55 339.09M310.97 339.51L307.07 334.7M315.5 336.26L312.18 331.02M320.38 333.55L317.78 328.14M325.55 331.42L323.52 325.56M330.92 329.91L329.59 323.86M336.43 329.04L335.84 323.07M342.01 328.81L342.11 322.61M347.58 329.23L348.4 323.08M353.06 330.29L354.54 324.47M358.38 331.98L360.59 326.19M363.46 334.28L366.34 328.78M368.25 337.15L371.63 332.19M372.67 340.56L376.73 335.87M376.66 344.45L381.25 340.28M380.18 348.79L385.05 345.29M383.17 353.5L388.59 350.5M385.59 358.53L391.32 356.18M387.41 363.81L393.19 362.19M388.6 369.26L394.73 368.29M389.16 374.82L395.35 374.56" stroke="#7e7e7e" stroke-width="1.6" fill="none"/><g fill="#606060"><circle cx="396.34" cy="380.95" r="3.4"/><circle cx="391.6" cy="399.56" r="3.4"/><circle cx="380.78" cy="415.42" r="3.4"/><circle cx="365.18" cy="426.63" r="3.4"/><circle cx="346.69" cy="431.83" r="3.4"/><circle cx="327.54" cy="430.39" r="3.4"/><circle cx="310.04" cy="422.48" r="3.4"/><circle cx="296.29" cy="409.07" r="3.4"/><circle cx="287.96" cy="391.76" r="3.4"/><circle cx="286.06" cy="372.65" r="3.4"/><circle cx="290.8" cy="354.04" r="3.4"/><circle cx="301.62" cy="338.18" r="3.4"/><circle cx="317.22" cy="326.97" r="3.4"/><circle cx="335.71" cy="321.77" r="3.4"/><circle cx="354.86" cy="323.21" r="3.4"/><circle cx="372.36" cy="331.12" r="3.4"/><circle cx="386.11" cy="344.53" r="3.4"/><circle cx="394.44" cy="361.84" r="3.4"/></g><path d="M304.8 364.3 L305.24 364.35 L305.71 364.42 L306.2 364.53 L306.69 364.65 L307.2 364.79 L307.7 364.95 L308.21 365.12 L308.7 365.3 L309.19 365.52 L309.7 365.81 L310.21 366.14 L310.71 366.46 L311.21 366.76 L311.7 367.01 L312.16 367.16 L312.6 367.2 L313.01 367.11 L313.39 366.9 L313.76 366.62 L314.11 366.27 L314.45 365.9 L314.79 365.51 L315.14 365.13 L315.5 364.8 L315.87 364.48 L316.25 364.14 L316.62 363.78 L317 363.43 L317.38 363.1 L317.75 362.79 L318.13 362.52 L318.5 362.3 L318.87 362.13 L319.23 361.99 L319.59 361.88 L319.95 361.8 L320.31 361.75 L320.67 361.74 L321.03 361.75 L321.4 361.8 L321.77 361.88 L322.15 362 L322.52 362.15 L322.9 362.33 L323.28 362.54 L323.65 362.77 L324.03 363.03 L324.4 363.3 L324.77 363.62 L325.13 363.99 L325.49 364.41 L325.86 364.84 L326.22 365.26 L326.58 365.66 L326.94 366.02 L327.3 366.3 L327.66 366.53 L328.02 366.74 L328.38 366.91 L328.74 367.06 L329.11 367.16 L329.47 367.22 L329.83 367.24 L330.2 367.2 L330.57 367.1 L330.95 366.94 L331.32 366.72 L331.7 366.46 L332.08 366.18 L332.45 365.88 L332.83 365.59 L333.2 365.3 L333.56 365.01 L333.92 364.68 L334.27 364.34 L334.62 363.99 L334.98 363.65 L335.34 363.33 L335.71 363.04 L336.1 362.8 L336.49 362.58 L336.89 362.37 L337.29 362.18 L337.71 362.02 L338.13 361.89 L338.57 361.8 L339.02 361.77 L339.5 361.8 L340 361.9 L340.52 362.06 L341.05 362.27 L341.61 362.52 L342.17 362.82 L342.74 363.13 L343.32 363.46 L343.9 363.8 L344.49 364.2 L345.09 364.69 L345.7 365.23 L346.32 365.77 L346.94 366.29 L347.56 366.72 L348.18 367.04 L348.8 367.2 L349.41 367.18 L350.03 367.02 L350.64 366.75 L351.25 366.4 L351.86 366 L352.48 365.58 L353.09 365.17 L353.7 364.8 L354.31 364.42 L354.93 363.96 L355.54 363.48 L356.15 362.99 L356.76 362.55 L357.37 362.18 L357.99 361.92 L358.6 361.8 L359.22 361.85 L359.85 362.03 L360.48 362.32 L361.11 362.68 L361.74 363.09 L362.35 363.52 L362.94 363.93 L363.5 364.3 L364.03 364.68 L364.52 365.12 L364.99 365.59 L365.45 366.06 L365.91 366.48 L366.38 366.84 L366.87 367.09 L367.4 367.2 L367.97 367.15 L368.58 366.95 L369.21 366.65 L369.85 366.27 L370.49 365.87 L371.12 365.46 L371.73 365.09 L372.3 364.8 L372.83 364.55 L373.33 364.31 L373.81 364.07 L374.28 363.84 L374.74 363.65 L375.21 363.49 L375.7 363.37 L376.2 363.3 L376.74 363.28 L377.31 363.3 L377.89 363.35 L378.48 363.44 L379.06 363.57 L379.61 363.74 L380.13 363.95 L380.6 364.2 L381.03 364.51 L381.45 364.89 L381.84 365.33 L382.2 365.79 L382.52 366.28 L382.8 366.77 L383.03 367.25 L383.2 367.7 L383.31 368.13 L383.37 368.55 L383.38 368.98 L383.34 369.4 L383.26 369.82 L383.14 370.25 L382.99 370.67 L382.8 371.1 L382.55 371.54 L382.23 371.99 L381.86 372.45 L381.45 372.91 L381.04 373.36 L380.64 373.8 L380.29 374.21 L380 374.6 L379.76 374.95 L379.53 375.25 L379.32 375.54 L379.14 375.81 L378.99 376.08 L378.88 376.36 L378.81 376.66 L378.8 377 L378.84 377.38 L378.93 377.78 L379.06 378.2 L379.24 378.63 L379.44 379.07 L379.68 379.52 L379.93 379.96 L380.2 380.4 L380.52 380.83 L380.91 381.27 L381.34 381.71 L381.79 382.15 L382.22 382.59 L382.62 383.03 L382.96 383.47 L383.2 383.9 L383.37 384.34 L383.49 384.78 L383.56 385.23 L383.59 385.68 L383.57 386.11 L383.5 386.53 L383.37 386.93 L383.2 387.3 L382.96 387.66 L382.64 388.03 L382.26 388.38 L381.84 388.71 L381.38 389.01 L380.92 389.27 L380.45 389.47 L380 389.6 L379.56 389.65 L379.12 389.63 L378.67 389.56 L378.21 389.44 L377.73 389.29 L377.24 389.12 L376.73 388.95 L376.2 388.8 L375.63 388.62 L375.03 388.39 L374.4 388.14 L373.76 387.88 L373.11 387.64 L372.48 387.45 L371.87 387.33 L371.3 387.3 L370.76 387.36 L370.25 387.5 L369.76 387.69 L369.29 387.94 L368.82 388.22 L368.35 388.53 L367.88 388.86 L367.4 389.2 L366.92 389.59 L366.45 390.06 L365.98 390.57 L365.51 391.1 L365.04 391.61 L364.55 392.07 L364.04 392.44 L363.5 392.7 L362.93 392.84 L362.32 392.9 L361.69 392.89 L361.05 392.82 L360.41 392.71 L359.78 392.56 L359.17 392.39 L358.6 392.2 L358.06 391.98 L357.55 391.71 L357.06 391.4 L356.59 391.07 L356.12 390.72 L355.65 390.36 L355.18 390.02 L354.7 389.7 L354.22 389.36 L353.75 388.98 L353.28 388.58 L352.81 388.19 L352.34 387.84 L351.85 387.56 L351.34 387.37 L350.8 387.3 L350.23 387.37 L349.62 387.55 L348.99 387.82 L348.35 388.16 L347.71 388.55 L347.08 388.95 L346.47 389.34 L345.9 389.7 L345.37 390.09 L344.88 390.55 L344.41 391.04 L343.95 391.54 L343.49 391.99 L343.02 392.36 L342.53 392.61 L342 392.7 L341.42 392.61 L340.8 392.36 L340.15 391.99 L339.49 391.54 L338.84 391.04 L338.21 390.55 L337.63 390.09 L337.1 389.7 L336.63 389.36 L336.21 389.01 L335.83 388.67 L335.48 388.34 L335.13 388.03 L334.8 387.75 L334.46 387.5 L334.1 387.3 L333.73 387.13 L333.35 386.97 L332.97 386.85 L332.59 386.75 L332.22 386.69 L331.86 386.68 L331.52 386.71 L331.2 386.8 L330.91 386.96 L330.66 387.18 L330.42 387.46 L330.2 387.78 L329.98 388.13 L329.74 388.49 L329.49 388.85 L329.2 389.2 L328.89 389.56 L328.56 389.97 L328.22 390.39 L327.87 390.82 L327.5 391.23 L327.12 391.61 L326.72 391.94 L326.3 392.2 L325.85 392.4 L325.37 392.55 L324.87 392.66 L324.35 392.73 L323.83 392.77 L323.33 392.77 L322.85 392.75 L322.4 392.7 L321.99 392.62 L321.61 392.5 L321.24 392.35 L320.89 392.16 L320.55 391.95 L320.21 391.72 L319.86 391.47 L319.5 391.2 L319.14 390.9 L318.78 390.55 L318.42 390.18 L318.06 389.78 L317.7 389.38 L317.32 388.99 L316.92 388.63 L316.5 388.3 L316.05 387.97 L315.56 387.62 L315.06 387.27 L314.54 386.94 L314.03 386.65 L313.53 386.43 L313.05 386.31 L312.6 386.3 L312.2 386.43 L311.83 386.7 L311.48 387.07 L311.15 387.5 L310.82 387.96 L310.47 388.42 L310.1 388.85 L309.7 389.2 L309.26 389.51 L308.8 389.83 L308.32 390.15 L307.82 390.44 L307.31 390.71 L306.81 390.93 L306.3 391.1 L305.8 391.2 L305.29 391.23 L304.77 391.21 L304.24 391.13 L303.71 391.01 L303.19 390.85 L302.69 390.65 L302.22 390.44 L301.8 390.2 L301.4 389.94 L301.02 389.63 L300.66 389.3 L300.32 388.93 L300.02 388.54 L299.76 388.14 L299.55 387.72 L299.4 387.3 L299.31 386.86 L299.28 386.38 L299.29 385.89 L299.35 385.38 L299.45 384.87 L299.57 384.36 L299.73 383.87 L299.9 383.4 L300.12 382.95 L300.41 382.51 L300.74 382.07 L301.1 381.64 L301.46 381.22 L301.79 380.81 L302.08 380.4 L302.3 380 L302.48 379.6 L302.64 379.21 L302.78 378.82 L302.88 378.44 L302.95 378.06 L302.96 377.7 L302.91 377.34 L302.8 377 L302.59 376.68 L302.28 376.38 L301.9 376.1 L301.47 375.83 L301.03 375.55 L300.61 375.26 L300.22 374.95 L299.9 374.6 L299.63 374.21 L299.38 373.8 L299.14 373.36 L298.93 372.91 L298.75 372.45 L298.59 371.99 L298.48 371.54 L298.4 371.1 L298.36 370.67 L298.35 370.23 L298.37 369.8 L298.43 369.36 L298.52 368.93 L298.65 368.51 L298.81 368.1 L299 367.7 L299.24 367.3 L299.54 366.88 L299.88 366.47 L300.25 366.07 L300.64 365.69 L301.03 365.34 L301.43 365.04 L301.8 364.8 L302.16 364.61 L302.51 364.47 L302.87 364.37 L303.23 364.31 L303.6 364.27 L303.98 364.26 L304.38 364.27 L304.8 364.3" fill="none" stroke="#6c6c6c" stroke-width="1.4" stroke-linejoin="round" stroke-linecap="round"/><path d="M305.68 364.72L305.27 366.68M307.49 365.2L306.89 367.11M309.19 365.87L308.2 367.6M310.8 366.87L309.77 368.58M312.79 367.46L313.24 369.41M314.48 366.31L315.96 367.65M315.77 364.97L317.07 366.48M317.17 363.68L318.54 365.14M318.63 362.57L319.64 364.3M320.32 362.05L320.58 364.04M322.04 362.28L321.3 364.14M323.66 363.14L322.53 364.79M325.03 364.33L323.53 365.65M326.27 365.77L324.79 367.11M327.85 366.98L326.85 368.72M329.79 367.53L329.71 369.53M331.72 366.81L332.84 368.47M333.24 365.65L334.46 367.23M334.68 364.36L336.08 365.78M336.08 363.17L337.15 364.86M337.72 362.34L338.46 364.19M339.45 362.1L339.33 364.09M341.15 362.64L340.3 364.46M342.81 363.51L341.81 365.25M344.38 364.49L343.11 366.04M345.81 365.72L344.48 367.22M347.32 366.92L346.17 368.56M349.29 367.49L349.35 369.48M351.19 366.78L352.19 368.51M352.8 365.72L353.91 367.39M354.4 364.72L355.46 366.41M355.93 363.55L357.17 365.12M357.46 362.48L358.49 364.19M359.1 362.14L358.95 364.13M360.72 362.8L359.72 364.54M362.28 363.84L361.14 365.48M363.84 364.92L362.68 366.54M365.17 366.2L363.75 367.6M366.85 367.39L366.44 369.35M368.88 367.14L369.74 368.94M370.56 366.18L371.63 367.87M372.16 365.21L373.07 366.99M373.86 364.38L374.75 366.17M375.56 363.71L376.04 365.65M377.35 363.6L377.17 365.59M379.16 363.91L378.58 365.82M380.77 364.69L379.59 366.31M381.98 366.01L380.32 367.11M382.85 367.61L380.97 368.32M383.04 369.35L381.05 369.17M382.5 371.03L380.75 370.05M381.41 372.5L379.91 371.18M380.14 373.92L378.62 372.63M378.99 375.48L377.33 374.37M378.56 377.51L376.61 377.95M379.25 379.36L377.48 380.28M380.28 381.01L378.67 382.19M381.62 382.41L380.2 383.82M382.8 383.79L381.05 384.77M383.27 385.47L381.28 385.6M382.93 387.17L381.12 386.32M381.72 388.43L380.48 386.85M380.14 389.25L379.58 387.33M378.43 389.19L378.94 387.25M376.63 388.61L377.19 386.69M374.86 388L375.62 386.15M373.07 387.32L373.65 385.4M371.08 387.02L370.84 385.04M369.19 387.65L368.28 385.87M367.57 388.72L366.42 387.08M366.09 390.01L364.61 388.66M364.83 391.39L363.46 389.93M363.42 392.41L362.94 390.47M361.65 392.59L361.86 390.6M359.83 392.26L360.38 390.34M358.1 391.66L359.03 389.89M356.54 390.66L357.74 389.06M354.99 389.53L356.1 387.87M353.52 388.39L354.82 386.87M351.88 387.25L352.58 385.38M349.84 387.17L349.26 385.25M348.05 387.99L347.03 386.27M346.43 389.01L345.34 387.33M344.86 390.16L343.49 388.69M343.53 391.53L342.13 390.1M342.09 392.38L341.74 390.41M340.51 391.85L341.5 390.11M338.99 390.78L340.24 389.21M337.49 389.61L338.67 388M336.03 388.45L337.38 386.98M334.52 387.19L335.51 385.46M332.68 386.46L333.17 384.53M330.61 386.83L329.28 385.33M329.44 388.4L327.8 387.25M328.26 389.87L326.69 388.62M327.03 391.27L325.62 389.85M325.55 392.18L324.95 390.27M323.77 392.47L323.74 390.47M321.98 392.3L322.57 390.39M320.38 391.48L321.56 389.86M318.96 390.31L320.41 388.93M317.66 388.92L319.09 387.52M316.15 387.68L317.33 386.06M314.55 386.6L315.52 384.85M312.63 386L312.67 384M310.94 387.28L309.36 386.06M309.8 388.72L308.48 387.21M308.29 389.8L307.2 388.13M306.69 390.66L306.06 388.76M304.93 390.91L305.03 388.92M303.18 390.52L303.9 388.65M301.58 389.69L302.82 388.12M300.29 388.4L301.87 387.17M299.61 386.8L301.57 386.4M299.72 385.03L301.69 385.39M300.28 383.3L302.08 384.18M301.34 381.82L302.87 383.11M302.51 380.25L304.26 381.22M303.2 378.38L305.17 378.71M302.68 376.35L304.06 374.9M301.09 375.23L302.21 373.57M299.85 373.99L301.55 372.95M299.03 372.35L300.93 371.72M298.66 370.59L300.66 370.55M298.87 368.81L300.79 369.37M299.68 367.21L301.3 368.38M300.91 365.85L302.22 367.36M302.38 364.85L303.12 366.7M304.12 364.57L304.07 366.57" stroke="#727272" stroke-width="0.75" fill="none"/><defs><clipPath id="ce"><path d="M527.6 313.4 L530.42 316.63 L533.34 319.7 L536.35 322.6 L539.45 325.35 L542.65 327.93 L545.94 330.35 L549.32 332.6 L552.8 334.7 L556.37 336.63 L560.04 338.4 L563.8 340 L567.65 341.45 L571.6 342.73 L575.64 343.85 L579.77 344.81 L584 345.6 L582.94 349.69 L582.03 353.78 L581.24 357.86 L580.6 361.95 L580.09 366.04 L579.73 370.13 L579.49 374.22 L579.4 378.3 L579.44 382.39 L579.63 386.48 L579.94 390.56 L580.4 394.65 L580.99 398.74 L581.73 402.83 L582.59 406.91 L583.6 411 L579.48 411.9 L575.45 412.95 L571.5 414.16 L567.65 415.51 L563.88 417.02 L560.2 418.68 L556.6 420.49 L553.1 422.45 L549.68 424.57 L546.35 426.83 L543.1 429.25 L539.95 431.81 L536.88 434.53 L533.9 437.4 L531.01 440.43 L528.2 443.6 L525.29 440.42 L522.29 437.4 L519.2 434.52 L516.03 431.8 L512.77 429.23 L509.42 426.81 L505.99 424.55 L502.47 422.43 L498.87 420.47 L495.17 418.66 L491.39 417.01 L487.53 415.5 L483.58 414.15 L479.54 412.95 L475.41 411.9 L471.2 411 L472.21 406.9 L473.09 402.8 L473.82 398.71 L474.42 394.61 L474.89 390.51 L475.21 386.41 L475.4 382.31 L475.45 378.21 L475.36 374.11 L475.14 370.01 L474.77 365.91 L474.27 361.81 L473.64 357.71 L472.86 353.6 L471.95 349.5 L470.9 345.4 L475.15 344.62 L479.3 343.67 L483.36 342.56 L487.33 341.29 L491.2 339.86 L494.98 338.27 L498.67 336.51 L502.26 334.59 L505.75 332.51 L509.16 330.27 L512.46 327.86 L515.68 325.29 L518.8 322.56 L521.83 319.67 L524.76 316.62 L527.6 313.4"/></clipPath></defs><g clip-path="url(#ce)"><polygon points="527.6,313.4 504,354 551,354" fill="#d8d8d8" stroke="#d8d8d8" stroke-width="0.6" stroke-linejoin="round"/><polygon points="527.6,313.4 470.9,345.4 504,354" fill="#d1d1d1" stroke="#d1d1d1" stroke-width="0.6" stroke-linejoin="round"/><polygon points="527.6,313.4 584,345.6 551,354" fill="#d5d5d5" stroke="#d5d5d5" stroke-width="0.6" stroke-linejoin="round"/><polygon points="470.9,345.4 471.2,411 504,354" fill="#d6d6d6" stroke="#d6d6d6" stroke-width="0.6" stroke-linejoin="round"/><polygon points="584,345.6 583.6,411 551,354" fill="#c9c9c9" stroke="#c9c9c9" stroke-width="0.6" stroke-linejoin="round"/><polygon points="471.2,411 504,354 527.5,418.5" fill="#d0d0d0" stroke="#d0d0d0" stroke-width="0.6" stroke-linejoin="round"/><polygon points="583.6,411 551,354 527.5,418.5" fill="#cacaca" stroke="#cacaca" stroke-width="0.6" stroke-linejoin="round"/><polygon points="471.2,411 528.2,443.6 527.5,418.5" fill="#c5c5c5" stroke="#c5c5c5" stroke-width="0.6" stroke-linejoin="round"/><polygon points="528.2,443.6 583.6,411 527.5,418.5" fill="#b9b9b9" stroke="#b9b9b9" stroke-width="0.6" stroke-linejoin="round"/><polygon points="504,354 551,354 527.5,418.5" fill="#d6d6d6" stroke="#d6d6d6" stroke-width="0.6" stroke-linejoin="round"/></g><path d="M521.5 364 L521.2 364.5 L520.91 365 L520.63 365.5 L520.34 366 L520.05 366.5 L519.73 367 L519.38 367.5 L519 368 L518.58 368.51 L518.13 369.05 L517.65 369.59 L517.16 370.12 L516.64 370.65 L516.11 371.14 L515.56 371.6 L515 372 L514.42 372.37 L513.8 372.73 L513.15 373.07 L512.5 373.38 L511.85 373.63 L511.2 373.83 L510.58 373.96 L510 374 L509.44 373.96 L508.88 373.85 L508.34 373.67 L507.81 373.44 L507.31 373.15 L506.84 372.8 L506.4 372.42 L506 372 L505.63 371.52 L505.29 370.96 L504.97 370.34 L504.69 369.69 L504.44 369.01 L504.24 368.32 L504.09 367.65 L504 367 L503.97 366.37 L504 365.73 L504.09 365.08 L504.22 364.44 L504.38 363.8 L504.57 363.18 L504.78 362.58 L505 362 L505.25 361.45 L505.57 360.93 L505.92 360.43 L506.28 359.94 L506.64 359.46 L506.98 358.98 L507.27 358.49 L507.5 358 L507.68 357.5 L507.85 357 L507.99 356.5 L508.09 356 L508.16 355.5 L508.17 355 L508.12 354.5 L508 354 L507.79 353.51 L507.47 353.02 L507.09 352.54 L506.66 352.06 L506.21 351.57 L505.76 351.07 L505.35 350.55 L505 350 L504.69 349.42 L504.37 348.81 L504.07 348.18 L503.78 347.53 L503.52 346.88 L503.3 346.24 L503.12 345.61 L503 345 L502.92 344.4 L502.88 343.8 L502.87 343.21 L502.91 342.62 L502.98 342.06 L503.11 341.51 L503.28 340.99 L503.5 340.5 L503.78 340.04 L504.13 339.59 L504.53 339.16 L504.97 338.75 L505.45 338.38 L505.95 338.04 L506.47 337.75 L507 337.5 L507.56 337.3 L508.17 337.14 L508.81 337.02 L509.47 336.94 L510.13 336.89 L510.79 336.89 L511.41 336.93 L512 337 L512.55 337.13 L513.09 337.31 L513.62 337.54 L514.12 337.81 L514.62 338.1 L515.09 338.41 L515.55 338.71 L516 339 L516.42 339.3 L516.8 339.64 L517.15 339.99 L517.5 340.34 L517.85 340.69 L518.2 341 L518.58 341.28 L519 341.5 L519.45 341.68 L519.93 341.82 L520.43 341.94 L520.94 342.03 L521.46 342.08 L521.98 342.1 L522.49 342.07 L523 342 L523.5 341.87 L524 341.69 L524.5 341.46 L525 341.19 L525.5 340.9 L526 340.59 L526.5 340.29 L527 340 L527.49 339.7 L527.98 339.39 L528.46 339.06 L528.94 338.72 L529.43 338.39 L529.93 338.07 L530.45 337.77 L531 337.5 L531.58 337.25 L532.2 337 L532.85 336.75 L533.5 336.53 L534.15 336.34 L534.8 336.18 L535.42 336.06 L536 336 L536.56 335.98 L537.11 336 L537.64 336.06 L538.16 336.16 L538.65 336.3 L539.13 336.48 L539.58 336.71 L540 337 L540.4 337.35 L540.79 337.77 L541.16 338.24 L541.5 338.75 L541.81 339.29 L542.09 339.86 L542.32 340.43 L542.5 341 L542.63 341.58 L542.7 342.18 L542.73 342.8 L542.72 343.44 L542.68 344.08 L542.63 344.73 L542.56 345.37 L542.5 346 L542.41 346.64 L542.29 347.29 L542.13 347.94 L541.97 348.59 L541.81 349.23 L541.67 349.86 L541.56 350.45 L541.5 351 L541.47 351.52 L541.44 352 L541.42 352.47 L541.44 352.91 L541.49 353.33 L541.59 353.73 L541.76 354.12 L542 354.5 L542.33 354.86 L542.73 355.18 L543.2 355.49 L543.72 355.78 L544.27 356.07 L544.85 356.36 L545.43 356.67 L546 357 L546.59 357.34 L547.23 357.69 L547.89 358.04 L548.56 358.41 L549.23 358.78 L549.87 359.17 L550.46 359.57 L551 360 L551.49 360.45 L551.96 360.93 L552.4 361.43 L552.81 361.94 L553.18 362.46 L553.51 362.98 L553.78 363.49 L554 364 L554.16 364.5 L554.28 365.01 L554.35 365.52 L554.38 366.03 L554.35 366.54 L554.28 367.04 L554.16 367.52 L554 368 L553.78 368.48 L553.51 368.96 L553.18 369.44 L552.81 369.91 L552.4 370.36 L551.96 370.78 L551.49 371.16 L551 371.5 L550.47 371.8 L549.89 372.06 L549.27 372.3 L548.62 372.5 L547.96 372.67 L547.3 372.81 L546.64 372.92 L546 373 L545.37 373.03 L544.73 372.99 L544.08 372.92 L543.44 372.81 L542.8 372.7 L542.18 372.6 L541.58 372.53 L541 372.5 L540.45 372.5 L539.92 372.51 L539.41 372.52 L538.92 372.56 L538.43 372.61 L537.96 372.7 L537.48 372.83 L537 373 L536.51 373.21 L536.01 373.47 L535.52 373.76 L535.02 374.07 L534.55 374.42 L534.1 374.8 L533.68 375.19 L533.3 375.6 L532.97 376.04 L532.7 376.5 L532.46 376.99 L532.24 377.51 L532.03 378.04 L531.82 378.58 L531.58 379.14 L531.3 379.7 L530.99 380.29 L530.67 380.92 L530.34 381.57 L529.99 382.23 L529.64 382.88 L529.27 383.5 L528.89 384.08 L528.5 384.6 L528.11 385.07 L527.72 385.53 L527.33 385.96 L526.92 386.35 L526.5 386.7 L526.04 387 L525.54 387.23 L525 387.4 L524.4 387.49 L523.75 387.5 L523.05 387.46 L522.33 387.36 L521.58 387.22 L520.84 387.06 L520.11 386.88 L519.4 386.7 L518.69 386.48 L517.95 386.18 L517.21 385.83 L516.48 385.47 L515.76 385.14 L515.08 384.86 L514.46 384.67 L513.9 384.6 L513.41 384.65 L512.96 384.78 L512.56 384.99 L512.2 385.26 L511.88 385.58 L511.59 385.94 L511.33 386.31 L511.1 386.7 L510.9 387.12 L510.73 387.59 L510.59 388.1 L510.49 388.64 L510.42 389.2 L510.38 389.75 L510.37 390.29 L510.4 390.8 L510.46 391.3 L510.56 391.8 L510.69 392.3 L510.86 392.79 L511.05 393.28 L511.27 393.74 L511.52 394.18 L511.8 394.6 L512.11 394.99 L512.46 395.38 L512.85 395.74 L513.26 396.09 L513.69 396.41 L514.13 396.7 L514.57 396.97 L515 397.2 L515.43 397.38 L515.87 397.5 L516.32 397.58 L516.78 397.64 L517.23 397.7 L517.69 397.76 L518.15 397.86 L518.6 398 L519.06 398.17 L519.54 398.33 L520.02 398.5 L520.49 398.7 L520.96 398.93 L521.41 399.2 L521.82 399.52 L522.2 399.9 L522.54 400.36 L522.86 400.88 L523.16 401.45 L523.43 402.07 L523.68 402.71 L523.91 403.38 L524.11 404.04 L524.3 404.7 L524.45 405.37 L524.56 406.08 L524.63 406.81 L524.69 407.54 L524.75 408.27 L524.81 408.99 L524.89 409.67 L525 410.3 L525.12 410.9 L525.24 411.48 L525.35 412.04 L525.48 412.57 L525.64 413.07 L525.84 413.55 L526.09 413.99 L526.4 414.4 L526.79 414.75 L527.26 415.05 L527.77 415.3 L528.33 415.53 L528.91 415.75 L529.49 415.97 L530.06 416.22 L530.6 416.5 L531.14 416.8 L531.7 417.1 L532.26 417.41 L532.83 417.73 L533.36 418.07 L533.87 418.44 L534.32 418.84 L534.7 419.3 L535.03 419.82 L535.34 420.41 L535.61 421.05 L535.83 421.71 L536 422.38 L536.11 423.03 L536.14 423.64 L536.1 424.2 L535.97 424.71 L535.76 425.2 L535.48 425.67 L535.13 426.12 L534.73 426.54 L534.29 426.93 L533.81 427.28 L533.3 427.6 L532.74 427.89 L532.12 428.16 L531.44 428.39 L530.72 428.6 L529.99 428.77 L529.25 428.89 L528.51 428.97 L527.8 429 L527.09 428.97 L526.37 428.88 L525.64 428.74 L524.91 428.56 L524.19 428.34 L523.5 428.11 L522.83 427.86 L522.2 427.6 L521.62 427.32 L521.07 427.02 L520.55 426.68 L520.06 426.33 L519.57 425.97 L519.09 425.61 L518.6 425.25 L518.1 424.9" fill="none" stroke="#6c6c6c" stroke-width="0.9" stroke-linejoin="round" stroke-linecap="round"/><path d="M520.73 364.71L519.26 363.86M519.74 366.43L518.3 365.52M518.59 368.02L517.28 366.95M517.3 369.53L516.05 368.37M515.91 370.91L514.83 369.6M514.33 372.07L513.42 370.64M512.61 373L511.89 371.45M510.78 373.61L510.44 371.94M508.95 373.56L509.48 371.94M507.25 372.73L508.24 371.35M505.91 371.38L507.26 370.35M505.01 369.68L506.57 369.01M504.44 367.83L506.1 367.46M504.29 365.92L505.99 366.01M504.64 364.02L506.28 364.44M505.26 362.15L506.85 362.75M506.23 360.51L507.59 361.52M507.41 358.85L508.86 359.73M508.18 356.93L509.82 357.39M508.45 354.85L510.15 354.68M507.73 352.86L509.15 351.94M506.38 351.32L507.66 350.2M505.22 349.78L506.72 348.97M504.33 348.02L505.88 347.34M503.6 346.19L505.21 345.63M503.22 344.31L504.91 344.19M503.24 342.38L504.93 342.6M503.79 340.6L505.24 341.48M505 339.12L506.15 340.38M506.59 338.02L507.42 339.5M508.38 337.41L508.69 339.08M510.31 337.19L510.32 338.89M512.23 337.36L511.85 339.02M513.99 338.08L513.12 339.54M515.67 339.14L514.74 340.56M517.13 340.39L515.91 341.58M518.75 341.71L517.95 343.21M520.75 342.3L520.46 343.98M522.83 342.33L523.06 344.01M524.81 341.63L525.61 343.13M526.55 340.61L527.43 342.07M528.26 339.55L529.23 340.95M529.91 338.44L530.82 339.87M531.64 337.55L532.32 339.11M533.49 336.85L534.04 338.46M535.38 336.37L535.69 338.04M537.29 336.33L537.11 338.02M539.11 336.81L538.32 338.31M540.56 337.96L539.22 339.01M541.62 339.58L540.09 340.32M542.28 341.39L540.62 341.75M542.42 343.31L540.72 343.28M542.27 345.27L540.58 345.11M541.99 347.22L540.32 346.9M541.52 349.15L539.87 348.74M541.19 351.18L539.49 351.07M541.18 353.23L539.49 353.44M542.21 355.15L541.14 356.47M543.95 356.24L543.16 357.75M545.7 357.17L544.85 358.65M547.46 358.15L546.66 359.65M549.19 359.11L548.31 360.56M550.8 360.23L549.74 361.56M552.17 361.61L550.9 362.74M553.28 363.19L551.78 363.98M553.96 364.97L552.31 365.35M554 366.85L552.32 366.61M553.36 368.61L551.88 367.77M552.19 370.15L550.93 369M550.7 371.32L549.87 369.84M548.93 372.09L548.42 370.47M547.03 372.55L546.75 370.88M545.1 372.71L545.19 371.01M543.16 372.46L543.45 370.78M541.14 372.21L541.22 370.51M539.1 372.24L538.99 370.55M537.07 372.66L536.5 371.05M535.23 373.59L534.3 372.16M533.61 374.84L532.44 373.6M532.35 376.52L530.82 375.78M531.57 378.39L529.99 377.76M530.72 380.17L529.2 379.39M529.81 381.94L528.3 381.15M528.82 383.64L527.39 382.71M527.62 385.19L526.32 384.09M526.24 386.51L525.31 385.08M524.51 387.17L524.26 385.49M522.6 387.09L522.83 385.41M520.67 386.71L521.07 385.05M518.78 386.19L519.43 384.62M516.98 385.38L517.71 383.85M515.11 384.56L515.6 382.93M512.98 384.46L512.49 382.84M511.3 385.83L509.89 384.87M510.39 387.71L508.74 387.27M510.08 389.76L508.38 389.74M510.26 391.8L508.59 392.13M510.95 393.76L509.42 394.49M512.14 395.46L510.89 396.62M513.72 396.79L512.77 398.2M515.58 397.73L515.13 399.37M517.59 398.05L517.35 399.74M519.44 398.62L518.86 400.21M521.2 399.42L520.33 400.88M522.45 400.78L521 401.66M523.29 402.53L521.7 403.14M523.9 404.4L522.27 404.86M524.28 406.31L522.59 406.49M524.45 408.29L522.75 408.42M524.7 410.31L523.02 410.6M525.1 412.29L523.45 412.69M525.9 414.24L524.55 415.28M527.56 415.53L526.82 417.06M529.44 416.28L528.76 417.84M531.19 417.17L530.39 418.67M532.92 418.14L532.01 419.58M534.36 419.37L533.06 420.46M535.28 421.04L533.71 421.7M535.78 422.89L534.1 423.17M535.65 424.7L534.09 424.03M534.59 426.25L533.36 425.08M533.07 427.38L532.29 425.87M531.29 428.13L530.82 426.49M529.37 428.57L529.09 426.89M527.44 428.68L527.52 426.99M525.53 428.4L525.94 426.75M523.63 427.84L524.18 426.23M521.82 427.09L522.54 425.55M520.18 426.05L521.2 424.69M518.56 424.86L519.53 423.46" stroke="#686868" stroke-width="0.75" fill="none"/></svg>
<div class="t" style="left:-0.5px;top:31.25px">Вирус гепатита А</div>
<div class="t" style="left:315.1px;top:-2.2px">Две формы вируса</div>
<div class="t" style="left:352px;top:17.8px">гепатита В</div>
<div class="t" style="left:38.8px;top:247px">Вирус гепатита С</div>
<div class="t" style="left:261px;top:247px">Вирус гепатита D</div>
<div class="t" style="left:456.3px;top:247px">Вирус гепатита E</div>
</body></html>
